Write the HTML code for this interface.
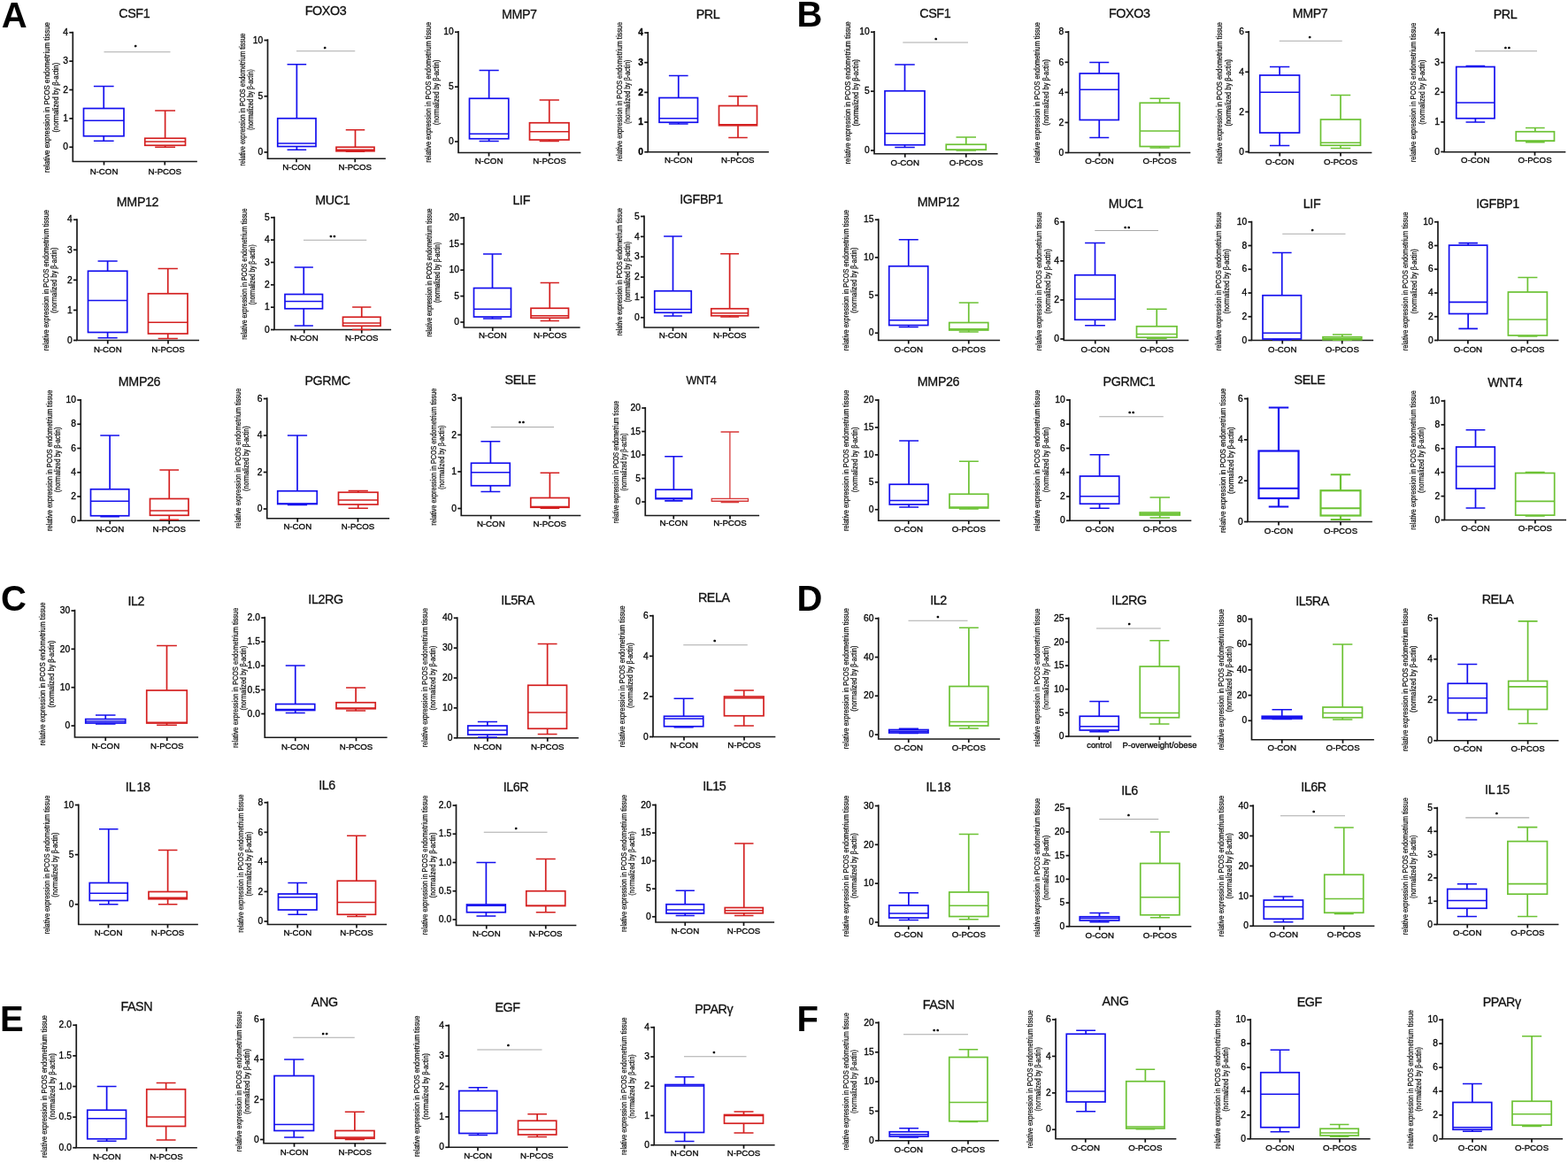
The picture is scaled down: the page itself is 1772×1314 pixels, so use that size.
<!DOCTYPE html>
<html><head><meta charset="utf-8"><title>Figure</title>
<style>html,body{margin:0;padding:0;background:#fff;}svg{display:block;}</style>
</head><body>
<svg width="1772" height="1314" viewBox="0 0 1772 1314" font-family="'Liberation Sans', Arial, sans-serif">
<rect width="1772" height="1314" fill="#fff"/>
<text x="1.8" y="30.6" font-size="40" font-weight="bold" fill="#000">A</text>
<text x="900.4" y="30.4" font-size="40" font-weight="bold" fill="#000">B</text>
<text x="1" y="690.2" font-size="40" font-weight="bold" fill="#000">C</text>
<text x="900.4" y="690.4" font-size="40" font-weight="bold" fill="#000">D</text>
<text x="0" y="1165" font-size="40" font-weight="bold" fill="#000">E</text>
<text x="900.4" y="1165" font-size="40" font-weight="bold" fill="#000">F</text>
<g><text x="151.75" y="20" font-size="14.3" text-anchor="middle" fill="#111" letter-spacing="-0.4" stroke="#111" stroke-width="0.3">CSF1</text><text transform="translate(56.4,110) rotate(-90)" font-size="8.5" text-anchor="middle" fill="#111" stroke="#111" stroke-width="0.25" textLength="170" lengthAdjust="spacingAndGlyphs">relative expression in PCOS endometrium tissue</text><text transform="translate(65.7,110.12) rotate(-90)" font-size="8.5" text-anchor="middle" fill="#111" stroke="#111" stroke-width="0.25" textLength="78.75" lengthAdjust="spacingAndGlyphs">(normalized by β-actin)</text><path d="M82.3,36.5V182.5H222" fill="none" stroke="#1a1a1a" stroke-width="1.7" stroke-linecap="square"/><path d="M78.3,36.75H82.3" stroke="#111" stroke-width="1.7"/><text x="77" y="39.94" font-size="10.3" text-anchor="end" fill="#000" stroke="#000" stroke-width="0.3" font-weight="normal">4</text><path d="M78.3,69.12H82.3" stroke="#111" stroke-width="1.7"/><text x="77" y="72.32" font-size="10.3" text-anchor="end" fill="#000" stroke="#000" stroke-width="0.3" font-weight="normal">3</text><path d="M78.3,101.5H82.3" stroke="#111" stroke-width="1.7"/><text x="77" y="104.69" font-size="10.3" text-anchor="end" fill="#000" stroke="#000" stroke-width="0.3" font-weight="normal">2</text><path d="M78.3,133.88H82.3" stroke="#111" stroke-width="1.7"/><text x="77" y="137.07" font-size="10.3" text-anchor="end" fill="#000" stroke="#000" stroke-width="0.3" font-weight="normal">1</text><path d="M78.3,166.25H82.3" stroke="#111" stroke-width="1.7"/><text x="77" y="169.44" font-size="10.3" text-anchor="end" fill="#000" stroke="#000" stroke-width="0.3" font-weight="normal">0</text><path d="M117.5,182.5V186.5" stroke="#111" stroke-width="1.7"/><text x="117.5" y="196.7" font-size="9.7" text-anchor="middle" fill="#000" stroke="#000" stroke-width="0.3">N-CON</text><path d="M186.25,182.5V186.5" stroke="#111" stroke-width="1.7"/><text x="186.25" y="196.7" font-size="9.7" text-anchor="middle" fill="#000" stroke="#000" stroke-width="0.3">N-PCOS</text><path d="M117.25,97.5V122.5M117.25,153.75V159.25M105.88,97.5H128.62M105.88,159.25H128.62M94.5,136.25H140" fill="none" stroke="#1410ee" stroke-width="1.7"/><rect x="94.5" y="122.5" width="45.5" height="31.25" fill="none" stroke="#1410ee" stroke-width="1.7"/><path d="M186.62,125V156.25M186.62,164.25V166.25M175.19,125H198.06M175.19,166.25H198.06M163.75,160H209.5" fill="none" stroke="#d42020" stroke-width="1.7"/><rect x="163.75" y="156.25" width="45.75" height="8" fill="none" stroke="#d42020" stroke-width="1.7"/><path d="M117.5,58.75H192.5" stroke="#aaa" stroke-width="1.1"/><text x="153.2" y="55.4" font-size="6" font-weight="bold" text-anchor="middle" fill="#000" stroke="#000" stroke-width="0.5" letter-spacing="0">*</text></g>
<g><text x="368" y="17" font-size="14.3" text-anchor="middle" fill="#111" letter-spacing="-0.4" stroke="#111" stroke-width="0.3">FOXO3</text><text transform="translate(277,112.5) rotate(-90)" font-size="8.5" text-anchor="middle" fill="#111" stroke="#111" stroke-width="0.25" textLength="150" lengthAdjust="spacingAndGlyphs">relative expression in PCOS endometrium tissue</text><text transform="translate(286.3,112.62) rotate(-90)" font-size="8.5" text-anchor="middle" fill="#111" stroke="#111" stroke-width="0.25" textLength="68.75" lengthAdjust="spacingAndGlyphs">(normalized by β-actin)</text><path d="M302.5,45V179.25H435" fill="none" stroke="#1a1a1a" stroke-width="1.7" stroke-linecap="square"/><path d="M298.5,45.5H302.5" stroke="#111" stroke-width="1.7"/><text x="297.2" y="48.69" font-size="10.3" text-anchor="end" fill="#000" stroke="#000" stroke-width="0.3" font-weight="normal">10</text><path d="M298.5,108.75H302.5" stroke="#111" stroke-width="1.7"/><text x="297.2" y="111.94" font-size="10.3" text-anchor="end" fill="#000" stroke="#000" stroke-width="0.3" font-weight="normal">5</text><path d="M298.5,172H302.5" stroke="#111" stroke-width="1.7"/><text x="297.2" y="175.19" font-size="10.3" text-anchor="end" fill="#000" stroke="#000" stroke-width="0.3" font-weight="normal">0</text><path d="M335,179.25V183.25" stroke="#111" stroke-width="1.7"/><text x="335" y="191.7" font-size="9.7" text-anchor="middle" fill="#000" stroke="#000" stroke-width="0.3">N-CON</text><path d="M401.25,179.25V183.25" stroke="#111" stroke-width="1.7"/><text x="401.25" y="191.7" font-size="9.7" text-anchor="middle" fill="#000" stroke="#000" stroke-width="0.3">N-PCOS</text><path d="M335.38,72.75V133.75M335.38,165.5V169.25M324.56,72.75H346.19M324.56,169.25H346.19M313.75,162H357" fill="none" stroke="#1410ee" stroke-width="1.7"/><rect x="313.75" y="133.75" width="43.25" height="31.75" fill="none" stroke="#1410ee" stroke-width="1.7"/><path d="M401.5,146.75V166.25M401.5,170.75V171.25M390.75,146.75H412.25M390.75,171.25H412.25M380,169.25H423" fill="none" stroke="#d42020" stroke-width="1.7"/><rect x="380" y="166.25" width="43" height="4.5" fill="none" stroke="#d42020" stroke-width="1.7"/><path d="M335,57.75H401.25" stroke="#aaa" stroke-width="1.1"/><text x="367.2" y="56.65" font-size="6" font-weight="bold" text-anchor="middle" fill="#000" stroke="#000" stroke-width="0.5" letter-spacing="0">*</text></g>
<g><text x="586.75" y="20.5" font-size="14.3" text-anchor="middle" fill="#111" letter-spacing="-0.4" stroke="#111" stroke-width="0.3">MMP7</text><text transform="translate(487,104.38) rotate(-90)" font-size="8.5" text-anchor="middle" fill="#111" stroke="#111" stroke-width="0.25" textLength="158.75" lengthAdjust="spacingAndGlyphs">relative expression in PCOS endometrium tissue</text><text transform="translate(496.3,104.38) rotate(-90)" font-size="8.5" text-anchor="middle" fill="#111" stroke="#111" stroke-width="0.25" textLength="73.75" lengthAdjust="spacingAndGlyphs">(normalized by β-actin)</text><path d="M518,35.75V172.5H655.5" fill="none" stroke="#1a1a1a" stroke-width="1.7" stroke-linecap="square"/><path d="M514,36.25H518" stroke="#111" stroke-width="1.7"/><text x="512.7" y="39.44" font-size="10.3" text-anchor="end" fill="#000" stroke="#000" stroke-width="0.3" font-weight="normal">10</text><path d="M514,98.12H518" stroke="#111" stroke-width="1.7"/><text x="512.7" y="101.32" font-size="10.3" text-anchor="end" fill="#000" stroke="#000" stroke-width="0.3" font-weight="normal">5</text><path d="M514,160H518" stroke="#111" stroke-width="1.7"/><text x="512.7" y="163.19" font-size="10.3" text-anchor="end" fill="#000" stroke="#000" stroke-width="0.3" font-weight="normal">0</text><path d="M552.5,172.5V176.5" stroke="#111" stroke-width="1.7"/><text x="552.5" y="185.45" font-size="9.7" text-anchor="middle" fill="#000" stroke="#000" stroke-width="0.3">N-CON</text><path d="M621,172.5V176.5" stroke="#111" stroke-width="1.7"/><text x="621" y="185.45" font-size="9.7" text-anchor="middle" fill="#000" stroke="#000" stroke-width="0.3">N-PCOS</text><path d="M552.62,79.5V111.25M552.62,156.75V159.5M541.56,79.5H563.69M541.56,159.5H563.69M530.5,151.25H574.75" fill="none" stroke="#1410ee" stroke-width="1.7"/><rect x="530.5" y="111.25" width="44.25" height="45.5" fill="none" stroke="#1410ee" stroke-width="1.7"/><path d="M620.75,113V138.75M620.75,158V159.5M609.62,113H631.88M609.62,159.5H631.88M598.5,148.75H643" fill="none" stroke="#d42020" stroke-width="1.7"/><rect x="598.5" y="138.75" width="44.5" height="19.25" fill="none" stroke="#d42020" stroke-width="1.7"/></g>
<g><text x="800" y="21.25" font-size="14.3" text-anchor="middle" fill="#111" letter-spacing="-0.4" stroke="#111" stroke-width="0.3">PRL</text><text transform="translate(703,103.75) rotate(-90)" font-size="8.5" text-anchor="middle" fill="#111" stroke="#111" stroke-width="0.25" textLength="157.5" lengthAdjust="spacingAndGlyphs">relative expression in PCOS endometrium tissue</text><text transform="translate(712.3,103.75) rotate(-90)" font-size="8.5" text-anchor="middle" fill="#111" stroke="#111" stroke-width="0.25" textLength="72.5" lengthAdjust="spacingAndGlyphs">(normalized by β-actin)</text><path d="M732.25,36.75V171.75H868" fill="none" stroke="#1a1a1a" stroke-width="1.7" stroke-linecap="square"/><path d="M728.25,37H732.25" stroke="#111" stroke-width="1.7"/><text x="726.95" y="40.19" font-size="10.3" text-anchor="end" fill="#000" stroke="#000" stroke-width="0.3" font-weight="bold">4</text><path d="M728.25,70.69H732.25" stroke="#111" stroke-width="1.7"/><text x="726.95" y="73.88" font-size="10.3" text-anchor="end" fill="#000" stroke="#000" stroke-width="0.3" font-weight="bold">3</text><path d="M728.25,104.38H732.25" stroke="#111" stroke-width="1.7"/><text x="726.95" y="107.57" font-size="10.3" text-anchor="end" fill="#000" stroke="#000" stroke-width="0.3" font-weight="bold">2</text><path d="M728.25,138.06H732.25" stroke="#111" stroke-width="1.7"/><text x="726.95" y="141.26" font-size="10.3" text-anchor="end" fill="#000" stroke="#000" stroke-width="0.3" font-weight="bold">1</text><path d="M728.25,171.75H732.25" stroke="#111" stroke-width="1.7"/><text x="726.95" y="174.94" font-size="10.3" text-anchor="end" fill="#000" stroke="#000" stroke-width="0.3" font-weight="bold">0</text><path d="M766.75,171.75V175.75" stroke="#111" stroke-width="1.7"/><text x="766.75" y="184.2" font-size="9.7" text-anchor="middle" fill="#000" stroke="#000" stroke-width="0.3">N-CON</text><path d="M833.75,171.75V175.75" stroke="#111" stroke-width="1.7"/><text x="833.75" y="184.2" font-size="9.7" text-anchor="middle" fill="#000" stroke="#000" stroke-width="0.3">N-PCOS</text><path d="M766.75,85.5V110.5M766.75,138.25V140M755.88,85.5H777.62M755.88,140H777.62M745,133.75H788.5" fill="none" stroke="#1410ee" stroke-width="1.7"/><rect x="745" y="110.5" width="43.5" height="27.75" fill="none" stroke="#1410ee" stroke-width="1.7"/><path d="M834,108.75V119.5M834,141.75V155.5M823.25,108.75H844.75M823.25,155.5H844.75M812.5,140.75H855.5" fill="none" stroke="#d42020" stroke-width="1.7"/><rect x="812.5" y="119.5" width="43" height="22.25" fill="none" stroke="#d42020" stroke-width="1.7"/></g>
<g><text x="155.5" y="232.5" font-size="14.3" text-anchor="middle" fill="#111" letter-spacing="-0.4" stroke="#111" stroke-width="0.3">MMP12</text><text transform="translate(54.75,316.62) rotate(-90)" font-size="8.5" text-anchor="middle" fill="#111" stroke="#111" stroke-width="0.25" textLength="159.25" lengthAdjust="spacingAndGlyphs">relative expression in PCOS endometrium tissue</text><text transform="translate(64.05,316.62) rotate(-90)" font-size="8.5" text-anchor="middle" fill="#111" stroke="#111" stroke-width="0.25" textLength="74.25" lengthAdjust="spacingAndGlyphs">(normalized by β-actin)</text><path d="M87,248V384.5H224.25" fill="none" stroke="#1a1a1a" stroke-width="1.7" stroke-linecap="square"/><path d="M83,248.25H87" stroke="#111" stroke-width="1.7"/><text x="81.7" y="251.44" font-size="10.3" text-anchor="end" fill="#000" stroke="#000" stroke-width="0.3" font-weight="normal">4</text><path d="M83,282.31H87" stroke="#111" stroke-width="1.7"/><text x="81.7" y="285.51" font-size="10.3" text-anchor="end" fill="#000" stroke="#000" stroke-width="0.3" font-weight="normal">3</text><path d="M83,316.38H87" stroke="#111" stroke-width="1.7"/><text x="81.7" y="319.57" font-size="10.3" text-anchor="end" fill="#000" stroke="#000" stroke-width="0.3" font-weight="normal">2</text><path d="M83,350.44H87" stroke="#111" stroke-width="1.7"/><text x="81.7" y="353.63" font-size="10.3" text-anchor="end" fill="#000" stroke="#000" stroke-width="0.3" font-weight="normal">1</text><path d="M83,384.5H87" stroke="#111" stroke-width="1.7"/><text x="81.7" y="387.69" font-size="10.3" text-anchor="end" fill="#000" stroke="#000" stroke-width="0.3" font-weight="normal">0</text><path d="M121.75,384.5V388.5" stroke="#111" stroke-width="1.7"/><text x="121.75" y="397.95" font-size="9.7" text-anchor="middle" fill="#000" stroke="#000" stroke-width="0.3">N-CON</text><path d="M190,384.5V388.5" stroke="#111" stroke-width="1.7"/><text x="190" y="397.95" font-size="9.7" text-anchor="middle" fill="#000" stroke="#000" stroke-width="0.3">N-PCOS</text><path d="M121.62,295V306.25M121.62,375.5V381.75M110.56,295H132.69M110.56,381.75H132.69M99.5,339.5H143.75" fill="none" stroke="#1410ee" stroke-width="1.7"/><rect x="99.5" y="306.25" width="44.25" height="69.25" fill="none" stroke="#1410ee" stroke-width="1.7"/><path d="M189.75,303.5V331.75M189.75,377V382.5M178.62,303.5H200.88M178.62,382.5H200.88M167.5,364.25H212" fill="none" stroke="#d42020" stroke-width="1.7"/><rect x="167.5" y="331.75" width="44.5" height="45.25" fill="none" stroke="#d42020" stroke-width="1.7"/></g>
<g><text x="375.75" y="231.25" font-size="14.3" text-anchor="middle" fill="#111" letter-spacing="-0.4" stroke="#111" stroke-width="0.3">MUC1</text><text transform="translate(279,309.62) rotate(-90)" font-size="8.5" text-anchor="middle" fill="#111" stroke="#111" stroke-width="0.25" textLength="148.25" lengthAdjust="spacingAndGlyphs">relative expression in PCOS endometrium tissue</text><text transform="translate(288.3,310.25) rotate(-90)" font-size="8.5" text-anchor="middle" fill="#111" stroke="#111" stroke-width="0.25" textLength="68" lengthAdjust="spacingAndGlyphs">(normalized by β-actin)</text><path d="M310,245.5V372.5H441.25" fill="none" stroke="#1a1a1a" stroke-width="1.7" stroke-linecap="square"/><path d="M306,245.75H310" stroke="#111" stroke-width="1.7"/><text x="304.7" y="248.94" font-size="10.3" text-anchor="end" fill="#000" stroke="#000" stroke-width="0.3" font-weight="normal">5</text><path d="M306,271.1H310" stroke="#111" stroke-width="1.7"/><text x="304.7" y="274.29" font-size="10.3" text-anchor="end" fill="#000" stroke="#000" stroke-width="0.3" font-weight="normal">4</text><path d="M306,296.45H310" stroke="#111" stroke-width="1.7"/><text x="304.7" y="299.64" font-size="10.3" text-anchor="end" fill="#000" stroke="#000" stroke-width="0.3" font-weight="normal">3</text><path d="M306,321.8H310" stroke="#111" stroke-width="1.7"/><text x="304.7" y="324.99" font-size="10.3" text-anchor="end" fill="#000" stroke="#000" stroke-width="0.3" font-weight="normal">2</text><path d="M306,347.15H310" stroke="#111" stroke-width="1.7"/><text x="304.7" y="350.34" font-size="10.3" text-anchor="end" fill="#000" stroke="#000" stroke-width="0.3" font-weight="normal">1</text><path d="M306,372.5H310" stroke="#111" stroke-width="1.7"/><text x="304.7" y="375.69" font-size="10.3" text-anchor="end" fill="#000" stroke="#000" stroke-width="0.3" font-weight="normal">0</text><path d="M343.75,372.5V376.5" stroke="#111" stroke-width="1.7"/><text x="343.75" y="384.7" font-size="9.7" text-anchor="middle" fill="#000" stroke="#000" stroke-width="0.3">N-CON</text><path d="M408.75,372.5V376.5" stroke="#111" stroke-width="1.7"/><text x="408.75" y="384.7" font-size="9.7" text-anchor="middle" fill="#000" stroke="#000" stroke-width="0.3">N-PCOS</text><path d="M343.25,302V332.5M343.25,348.75V368M332.62,302H353.88M332.62,368H353.88M322,340.5H364.5" fill="none" stroke="#1410ee" stroke-width="1.7"/><rect x="322" y="332.5" width="42.5" height="16.25" fill="none" stroke="#1410ee" stroke-width="1.7"/><path d="M408.75,347V358.25M408.75,368.25V372.5M398.12,347H419.38M398.12,372.5H419.38M387.5,365H430" fill="none" stroke="#d42020" stroke-width="1.7"/><rect x="387.5" y="358.25" width="42.5" height="10" fill="none" stroke="#d42020" stroke-width="1.7"/><path d="M343,271.25H414.25" stroke="#aaa" stroke-width="1.1"/><text x="376.8" y="269.9" font-size="6" font-weight="bold" text-anchor="middle" fill="#000" stroke="#000" stroke-width="0.5" letter-spacing="1.7">**</text></g>
<g><text x="589.25" y="231.25" font-size="14.3" text-anchor="middle" fill="#111" letter-spacing="-0.4" stroke="#111" stroke-width="0.3">LIF</text><text transform="translate(487.5,308) rotate(-90)" font-size="8.5" text-anchor="middle" fill="#111" stroke="#111" stroke-width="0.25" textLength="145" lengthAdjust="spacingAndGlyphs">relative expression in PCOS endometrium tissue</text><text transform="translate(496.8,307.88) rotate(-90)" font-size="8.5" text-anchor="middle" fill="#111" stroke="#111" stroke-width="0.25" textLength="68.25" lengthAdjust="spacingAndGlyphs">(normalized by β-actin)</text><path d="M524.25,245.75V370H654.75" fill="none" stroke="#1a1a1a" stroke-width="1.7" stroke-linecap="square"/><path d="M520.25,246.25H524.25" stroke="#111" stroke-width="1.7"/><text x="518.95" y="249.44" font-size="10.3" text-anchor="end" fill="#000" stroke="#000" stroke-width="0.3" font-weight="normal">20</text><path d="M520.25,275.69H524.25" stroke="#111" stroke-width="1.7"/><text x="518.95" y="278.88" font-size="10.3" text-anchor="end" fill="#000" stroke="#000" stroke-width="0.3" font-weight="normal">15</text><path d="M520.25,305.12H524.25" stroke="#111" stroke-width="1.7"/><text x="518.95" y="308.32" font-size="10.3" text-anchor="end" fill="#000" stroke="#000" stroke-width="0.3" font-weight="normal">10</text><path d="M520.25,334.56H524.25" stroke="#111" stroke-width="1.7"/><text x="518.95" y="337.76" font-size="10.3" text-anchor="end" fill="#000" stroke="#000" stroke-width="0.3" font-weight="normal">5</text><path d="M520.25,364H524.25" stroke="#111" stroke-width="1.7"/><text x="518.95" y="367.19" font-size="10.3" text-anchor="end" fill="#000" stroke="#000" stroke-width="0.3" font-weight="normal">0</text><path d="M556.75,370V374" stroke="#111" stroke-width="1.7"/><text x="556.75" y="381.7" font-size="9.7" text-anchor="middle" fill="#000" stroke="#000" stroke-width="0.3">N-CON</text><path d="M621.75,370V374" stroke="#111" stroke-width="1.7"/><text x="621.75" y="381.7" font-size="9.7" text-anchor="middle" fill="#000" stroke="#000" stroke-width="0.3">N-PCOS</text><path d="M556.5,287V325.5M556.5,358V360M546,287H567M546,360H567M535.5,349.25H577.5" fill="none" stroke="#1410ee" stroke-width="1.7"/><rect x="535.5" y="325.5" width="42" height="32.5" fill="none" stroke="#1410ee" stroke-width="1.7"/><path d="M621.25,319.5V348.25M621.25,359.25V362.5M610.62,319.5H631.88M610.62,362.5H631.88M600,356.75H642.5" fill="none" stroke="#d42020" stroke-width="1.7"/><rect x="600" y="348.25" width="42.5" height="11" fill="none" stroke="#d42020" stroke-width="1.7"/></g>
<g><text x="792.5" y="230" font-size="14.3" text-anchor="middle" fill="#111" letter-spacing="-0.4" stroke="#111" stroke-width="0.3">IGFBP1</text><text transform="translate(702.5,307.12) rotate(-90)" font-size="8.5" text-anchor="middle" fill="#111" stroke="#111" stroke-width="0.25" textLength="144.25" lengthAdjust="spacingAndGlyphs">relative expression in PCOS endometrium tissue</text><text transform="translate(711.8,307.12) rotate(-90)" font-size="8.5" text-anchor="middle" fill="#111" stroke="#111" stroke-width="0.25" textLength="68.25" lengthAdjust="spacingAndGlyphs">(normalized by β-actin)</text><path d="M728,244.25V370H857.25" fill="none" stroke="#1a1a1a" stroke-width="1.7" stroke-linecap="square"/><path d="M724,244.5H728" stroke="#111" stroke-width="1.7"/><text x="722.7" y="247.69" font-size="10.3" text-anchor="end" fill="#000" stroke="#000" stroke-width="0.3" font-weight="normal">5</text><path d="M724,267.35H728" stroke="#111" stroke-width="1.7"/><text x="722.7" y="270.54" font-size="10.3" text-anchor="end" fill="#000" stroke="#000" stroke-width="0.3" font-weight="normal">4</text><path d="M724,290.2H728" stroke="#111" stroke-width="1.7"/><text x="722.7" y="293.39" font-size="10.3" text-anchor="end" fill="#000" stroke="#000" stroke-width="0.3" font-weight="normal">3</text><path d="M724,313.05H728" stroke="#111" stroke-width="1.7"/><text x="722.7" y="316.24" font-size="10.3" text-anchor="end" fill="#000" stroke="#000" stroke-width="0.3" font-weight="normal">2</text><path d="M724,335.9H728" stroke="#111" stroke-width="1.7"/><text x="722.7" y="339.09" font-size="10.3" text-anchor="end" fill="#000" stroke="#000" stroke-width="0.3" font-weight="normal">1</text><path d="M724,358.75H728" stroke="#111" stroke-width="1.7"/><text x="722.7" y="361.94" font-size="10.3" text-anchor="end" fill="#000" stroke="#000" stroke-width="0.3" font-weight="normal">0</text><path d="M760.5,370V374" stroke="#111" stroke-width="1.7"/><text x="760.5" y="381.7" font-size="9.7" text-anchor="middle" fill="#000" stroke="#000" stroke-width="0.3">N-CON</text><path d="M824.75,370V374" stroke="#111" stroke-width="1.7"/><text x="824.75" y="381.7" font-size="9.7" text-anchor="middle" fill="#000" stroke="#000" stroke-width="0.3">N-PCOS</text><path d="M760.5,267V328.75M760.5,353.25V357M750.12,267H770.88M750.12,357H770.88M739.75,349.5H781.25" fill="none" stroke="#1410ee" stroke-width="1.7"/><rect x="739.75" y="328.75" width="41.5" height="24.5" fill="none" stroke="#1410ee" stroke-width="1.7"/><path d="M824.62,286.75V348.75M824.62,356.75V358M814.19,286.75H835.06M814.19,358H835.06M803.75,353.75H845.5" fill="none" stroke="#d42020" stroke-width="1.7"/><rect x="803.75" y="348.75" width="41.75" height="8" fill="none" stroke="#d42020" stroke-width="1.7"/></g>
<g><text x="157.5" y="435.5" font-size="14.3" text-anchor="middle" fill="#111" letter-spacing="-0.4" stroke="#111" stroke-width="0.3">MMP26</text><text transform="translate(59,520.25) rotate(-90)" font-size="8.5" text-anchor="middle" fill="#111" stroke="#111" stroke-width="0.25" textLength="159.5" lengthAdjust="spacingAndGlyphs">relative expression in PCOS endometrium tissue</text><text transform="translate(68.3,519.38) rotate(-90)" font-size="8.5" text-anchor="middle" fill="#111" stroke="#111" stroke-width="0.25" textLength="73.75" lengthAdjust="spacingAndGlyphs">(normalized by β-actin)</text><path d="M91.25,451.75V588.25H225" fill="none" stroke="#1a1a1a" stroke-width="1.7" stroke-linecap="square"/><path d="M87.25,452H91.25" stroke="#111" stroke-width="1.7"/><text x="85.95" y="455.19" font-size="10.3" text-anchor="end" fill="#000" stroke="#000" stroke-width="0.3" font-weight="normal">10</text><path d="M87.25,479.25H91.25" stroke="#111" stroke-width="1.7"/><text x="85.95" y="482.44" font-size="10.3" text-anchor="end" fill="#000" stroke="#000" stroke-width="0.3" font-weight="normal">8</text><path d="M87.25,506.5H91.25" stroke="#111" stroke-width="1.7"/><text x="85.95" y="509.69" font-size="10.3" text-anchor="end" fill="#000" stroke="#000" stroke-width="0.3" font-weight="normal">6</text><path d="M87.25,533.75H91.25" stroke="#111" stroke-width="1.7"/><text x="85.95" y="536.94" font-size="10.3" text-anchor="end" fill="#000" stroke="#000" stroke-width="0.3" font-weight="normal">4</text><path d="M87.25,561H91.25" stroke="#111" stroke-width="1.7"/><text x="85.95" y="564.19" font-size="10.3" text-anchor="end" fill="#000" stroke="#000" stroke-width="0.3" font-weight="normal">2</text><path d="M87.25,588.25H91.25" stroke="#111" stroke-width="1.7"/><text x="85.95" y="591.44" font-size="10.3" text-anchor="end" fill="#000" stroke="#000" stroke-width="0.3" font-weight="normal">0</text><path d="M124.25,588.25V592.25" stroke="#111" stroke-width="1.7"/><text x="124.25" y="601.2" font-size="9.7" text-anchor="middle" fill="#000" stroke="#000" stroke-width="0.3">N-CON</text><path d="M191.25,588.25V592.25" stroke="#111" stroke-width="1.7"/><text x="191.25" y="601.2" font-size="9.7" text-anchor="middle" fill="#000" stroke="#000" stroke-width="0.3">N-PCOS</text><path d="M124.12,492V552.75M124.12,582.75V583.75M113.31,492H134.94M113.31,583.75H134.94M102.5,566.25H145.75" fill="none" stroke="#1410ee" stroke-width="1.7"/><rect x="102.5" y="552.75" width="43.25" height="30" fill="none" stroke="#1410ee" stroke-width="1.7"/><path d="M191.25,531V563.5M191.25,582.25V587.25M180.38,531H202.12M180.38,587.25H202.12M169.5,577H213" fill="none" stroke="#d42020" stroke-width="1.7"/><rect x="169.5" y="563.5" width="43.5" height="18.75" fill="none" stroke="#d42020" stroke-width="1.7"/></g>
<g><text x="370" y="434.5" font-size="14.3" text-anchor="middle" fill="#111" letter-spacing="-0.4" stroke="#111" stroke-width="0.3">PGRMC</text><text transform="translate(272,517.88) rotate(-90)" font-size="8.5" text-anchor="middle" fill="#111" stroke="#111" stroke-width="0.25" textLength="158.25" lengthAdjust="spacingAndGlyphs">relative expression in PCOS endometrium tissue</text><text transform="translate(281.3,518.12) rotate(-90)" font-size="8.5" text-anchor="middle" fill="#111" stroke="#111" stroke-width="0.25" textLength="73.75" lengthAdjust="spacingAndGlyphs">(normalized by β-actin)</text><path d="M301.75,450V585.75H439.25" fill="none" stroke="#1a1a1a" stroke-width="1.7" stroke-linecap="square"/><path d="M297.75,450.5H301.75" stroke="#111" stroke-width="1.7"/><text x="296.45" y="453.69" font-size="10.3" text-anchor="end" fill="#000" stroke="#000" stroke-width="0.3" font-weight="normal">6</text><path d="M297.75,492H301.75" stroke="#111" stroke-width="1.7"/><text x="296.45" y="495.19" font-size="10.3" text-anchor="end" fill="#000" stroke="#000" stroke-width="0.3" font-weight="normal">4</text><path d="M297.75,533.5H301.75" stroke="#111" stroke-width="1.7"/><text x="296.45" y="536.69" font-size="10.3" text-anchor="end" fill="#000" stroke="#000" stroke-width="0.3" font-weight="normal">2</text><path d="M297.75,575H301.75" stroke="#111" stroke-width="1.7"/><text x="296.45" y="578.19" font-size="10.3" text-anchor="end" fill="#000" stroke="#000" stroke-width="0.3" font-weight="normal">0</text><path d="M336.25,585.75V589.75" stroke="#111" stroke-width="1.7"/><text x="336.25" y="597.95" font-size="9.7" text-anchor="middle" fill="#000" stroke="#000" stroke-width="0.3">N-CON</text><path d="M404.5,585.75V589.75" stroke="#111" stroke-width="1.7"/><text x="404.5" y="597.95" font-size="9.7" text-anchor="middle" fill="#000" stroke="#000" stroke-width="0.3">N-PCOS</text><path d="M336,492V554.75M336,569.5V570.5M324.88,492H347.12M324.88,570.5H347.12M313.75,569H358.25" fill="none" stroke="#1410ee" stroke-width="1.7"/><rect x="313.75" y="554.75" width="44.5" height="14.75" fill="none" stroke="#1410ee" stroke-width="1.7"/><path d="M404.75,554.5V556.25M404.75,570V574.25M393.62,554.5H415.88M393.62,574.25H415.88M382.5,565H427" fill="none" stroke="#d42020" stroke-width="1.7"/><rect x="382.5" y="556.25" width="44.5" height="13.75" fill="none" stroke="#d42020" stroke-width="1.7"/></g>
<g><text x="588" y="434.25" font-size="14.3" text-anchor="middle" fill="#111" letter-spacing="-0.4" stroke="#111" stroke-width="0.3">SELE</text><text transform="translate(493,516.25) rotate(-90)" font-size="8.5" text-anchor="middle" fill="#111" stroke="#111" stroke-width="0.25" textLength="155" lengthAdjust="spacingAndGlyphs">relative expression in PCOS endometrium tissue</text><text transform="translate(502.3,516.75) rotate(-90)" font-size="8.5" text-anchor="middle" fill="#111" stroke="#111" stroke-width="0.25" textLength="72.5" lengthAdjust="spacingAndGlyphs">(normalized by β-actin)</text><path d="M521.25,449.25V582.5H655.5" fill="none" stroke="#1a1a1a" stroke-width="1.7" stroke-linecap="square"/><path d="M517.25,449.75H521.25" stroke="#111" stroke-width="1.7"/><text x="515.95" y="452.94" font-size="10.3" text-anchor="end" fill="#000" stroke="#000" stroke-width="0.3" font-weight="normal">3</text><path d="M517.25,491.33H521.25" stroke="#111" stroke-width="1.7"/><text x="515.95" y="494.53" font-size="10.3" text-anchor="end" fill="#000" stroke="#000" stroke-width="0.3" font-weight="normal">2</text><path d="M517.25,532.92H521.25" stroke="#111" stroke-width="1.7"/><text x="515.95" y="536.11" font-size="10.3" text-anchor="end" fill="#000" stroke="#000" stroke-width="0.3" font-weight="normal">1</text><path d="M517.25,574.5H521.25" stroke="#111" stroke-width="1.7"/><text x="515.95" y="577.69" font-size="10.3" text-anchor="end" fill="#000" stroke="#000" stroke-width="0.3" font-weight="normal">0</text><path d="M554.75,582.5V586.5" stroke="#111" stroke-width="1.7"/><text x="554.75" y="595.45" font-size="9.7" text-anchor="middle" fill="#000" stroke="#000" stroke-width="0.3">N-CON</text><path d="M621.25,582.5V586.5" stroke="#111" stroke-width="1.7"/><text x="621.25" y="595.45" font-size="9.7" text-anchor="middle" fill="#000" stroke="#000" stroke-width="0.3">N-PCOS</text><path d="M554.38,498.75V523.25M554.38,548.75V555.5M543.44,498.75H565.31M543.44,555.5H565.31M532.5,533.75H576.25" fill="none" stroke="#1410ee" stroke-width="1.7"/><rect x="532.5" y="523.25" width="43.75" height="25.5" fill="none" stroke="#1410ee" stroke-width="1.7"/><path d="M621.38,534.25V562.5M621.38,573.25V574.25M610.56,534.25H632.19M610.56,574.25H632.19M599.75,572.5H643" fill="none" stroke="#d42020" stroke-width="1.7"/><rect x="599.75" y="562.5" width="43.25" height="10.75" fill="none" stroke="#d42020" stroke-width="1.7"/><path d="M554.75,482.5H626" stroke="#aaa" stroke-width="1.1"/><text x="590.3" y="479.9" font-size="6" font-weight="bold" text-anchor="middle" fill="#000" stroke="#000" stroke-width="0.5" letter-spacing="1.7">**</text></g>
<g><text x="792.5" y="434.25" font-size="12.5" text-anchor="middle" fill="#111" letter-spacing="-0.4" stroke="#111" stroke-width="0.3">WNT4</text><text transform="translate(698.5,522.12) rotate(-90)" font-size="8.5" text-anchor="middle" fill="#111" stroke="#111" stroke-width="0.25" textLength="138.25" lengthAdjust="spacingAndGlyphs">relative expression in PCOS endometrium tissue</text><text transform="translate(707.8,522) rotate(-90)" font-size="8.5" text-anchor="middle" fill="#111" stroke="#111" stroke-width="0.25" textLength="65" lengthAdjust="spacingAndGlyphs">(normalized by β-actin)</text><path d="M729.25,460.75V582.5H857.25" fill="none" stroke="#1a1a1a" stroke-width="1.7" stroke-linecap="square"/><path d="M725.25,461H729.25" stroke="#111" stroke-width="1.7"/><text x="723.95" y="464.19" font-size="10.3" text-anchor="end" fill="#000" stroke="#000" stroke-width="0.3" font-weight="normal">20</text><path d="M725.25,487.5H729.25" stroke="#111" stroke-width="1.7"/><text x="723.95" y="490.69" font-size="10.3" text-anchor="end" fill="#000" stroke="#000" stroke-width="0.3" font-weight="normal">15</text><path d="M725.25,514H729.25" stroke="#111" stroke-width="1.7"/><text x="723.95" y="517.19" font-size="10.3" text-anchor="end" fill="#000" stroke="#000" stroke-width="0.3" font-weight="normal">10</text><path d="M725.25,540.5H729.25" stroke="#111" stroke-width="1.7"/><text x="723.95" y="543.69" font-size="10.3" text-anchor="end" fill="#000" stroke="#000" stroke-width="0.3" font-weight="normal">5</text><path d="M725.25,567H729.25" stroke="#111" stroke-width="1.7"/><text x="723.95" y="570.19" font-size="10.3" text-anchor="end" fill="#000" stroke="#000" stroke-width="0.3" font-weight="normal">0</text><path d="M761.25,582.5V586.5" stroke="#111" stroke-width="1.7"/><text x="761.25" y="594.2" font-size="9.7" text-anchor="middle" fill="#000" stroke="#000" stroke-width="0.3">N-CON</text><path d="M825,582.5V586.5" stroke="#111" stroke-width="1.7"/><text x="825" y="594.2" font-size="9.7" text-anchor="middle" fill="#000" stroke="#000" stroke-width="0.3">N-PCOS</text><path d="M761.38,515.75V553.2M761.38,563.6V565.9M751.19,515.75H771.56M751.19,565.9H771.56M741,563.2H781.75" fill="none" stroke="#1410ee" stroke-width="1.7"/><rect x="741" y="553.2" width="40.75" height="10.4" fill="none" stroke="#1410ee" stroke-width="1.7"/><path d="M824.88,488V563.4M824.88,566.3V567.6M814.56,488H835.19M814.56,567.6H835.19M804.25,566.3H845.5" fill="none" stroke="#d83a3a" stroke-width="1.3"/><rect x="804.25" y="563.4" width="41.25" height="2.9" fill="none" stroke="#d83a3a" stroke-width="1.3"/></g>
<g><text x="1056.75" y="20" font-size="14.3" text-anchor="middle" fill="#111" letter-spacing="-0.4" stroke="#111" stroke-width="0.3">CSF1</text><text transform="translate(961,104.88) rotate(-90)" font-size="8.5" text-anchor="middle" fill="#111" stroke="#111" stroke-width="0.25" textLength="161.25" lengthAdjust="spacingAndGlyphs">relative expression in PCOS endometrium tissue</text><text transform="translate(970.3,104.75) rotate(-90)" font-size="8.5" text-anchor="middle" fill="#111" stroke="#111" stroke-width="0.25" textLength="75.5" lengthAdjust="spacingAndGlyphs">(normalized by β-actin)</text><path d="M988,35.75V173.75H1126.75" fill="none" stroke="#1a1a1a" stroke-width="1.7" stroke-linecap="square"/><path d="M984,36.25H988" stroke="#111" stroke-width="1.7"/><text x="982.7" y="39.44" font-size="10.3" text-anchor="end" fill="#000" stroke="#000" stroke-width="0.3" font-weight="normal">10</text><path d="M984,103.12H988" stroke="#111" stroke-width="1.7"/><text x="982.7" y="106.32" font-size="10.3" text-anchor="end" fill="#000" stroke="#000" stroke-width="0.3" font-weight="normal">5</text><path d="M984,170H988" stroke="#111" stroke-width="1.7"/><text x="982.7" y="173.19" font-size="10.3" text-anchor="end" fill="#000" stroke="#000" stroke-width="0.3" font-weight="normal">0</text><path d="M1022.75,173.75V177.75" stroke="#111" stroke-width="1.7"/><text x="1022.75" y="187.2" font-size="9.7" text-anchor="middle" fill="#000" stroke="#000" stroke-width="0.3">O-CON</text><path d="M1091.75,173.75V177.75" stroke="#111" stroke-width="1.7"/><text x="1091.75" y="187.2" font-size="9.7" text-anchor="middle" fill="#000" stroke="#000" stroke-width="0.3">O-PCOS</text><path d="M1022.5,73V102.75M1022.5,163.75V166.5M1011.25,73H1033.75M1011.25,166.5H1033.75M1000,150.75H1045" fill="none" stroke="#1410ee" stroke-width="1.7"/><rect x="1000" y="102.75" width="45" height="61" fill="none" stroke="#1410ee" stroke-width="1.7"/><path d="M1091.75,155V163.25M1091.75,169.25V170M1080.5,155H1103M1080.5,170H1103M1069.25,169.25H1114.25" fill="none" stroke="#6cc234" stroke-width="1.7"/><rect x="1069.25" y="163.25" width="45" height="6" fill="none" stroke="#6cc234" stroke-width="1.7"/><path d="M1020.25,48H1094" stroke="#aaa" stroke-width="1.1"/><text x="1057.7" y="47.15" font-size="6" font-weight="bold" text-anchor="middle" fill="#000" stroke="#000" stroke-width="0.5" letter-spacing="0">*</text></g>
<g><text x="1276.25" y="20" font-size="14.3" text-anchor="middle" fill="#111" letter-spacing="-0.4" stroke="#111" stroke-width="0.3">FOXO3</text><text transform="translate(1175.25,104.62) rotate(-90)" font-size="8.5" text-anchor="middle" fill="#111" stroke="#111" stroke-width="0.25" textLength="159.25" lengthAdjust="spacingAndGlyphs">relative expression in PCOS endometrium tissue</text><text transform="translate(1184.55,104.38) rotate(-90)" font-size="8.5" text-anchor="middle" fill="#111" stroke="#111" stroke-width="0.25" textLength="74.75" lengthAdjust="spacingAndGlyphs">(normalized by β-actin)</text><path d="M1207.5,35.75V172.5H1344.5" fill="none" stroke="#1a1a1a" stroke-width="1.7" stroke-linecap="square"/><path d="M1203.5,36.25H1207.5" stroke="#111" stroke-width="1.7"/><text x="1202.2" y="39.44" font-size="10.3" text-anchor="end" fill="#000" stroke="#000" stroke-width="0.3" font-weight="normal">8</text><path d="M1203.5,70.31H1207.5" stroke="#111" stroke-width="1.7"/><text x="1202.2" y="73.51" font-size="10.3" text-anchor="end" fill="#000" stroke="#000" stroke-width="0.3" font-weight="normal">6</text><path d="M1203.5,104.38H1207.5" stroke="#111" stroke-width="1.7"/><text x="1202.2" y="107.57" font-size="10.3" text-anchor="end" fill="#000" stroke="#000" stroke-width="0.3" font-weight="normal">4</text><path d="M1203.5,138.44H1207.5" stroke="#111" stroke-width="1.7"/><text x="1202.2" y="141.63" font-size="10.3" text-anchor="end" fill="#000" stroke="#000" stroke-width="0.3" font-weight="normal">2</text><path d="M1203.5,172.5H1207.5" stroke="#111" stroke-width="1.7"/><text x="1202.2" y="175.69" font-size="10.3" text-anchor="end" fill="#000" stroke="#000" stroke-width="0.3" font-weight="normal">0</text><path d="M1242.5,172.5V176.5" stroke="#111" stroke-width="1.7"/><text x="1242.5" y="185.45" font-size="9.7" text-anchor="middle" fill="#000" stroke="#000" stroke-width="0.3">O-CON</text><path d="M1310.5,172.5V176.5" stroke="#111" stroke-width="1.7"/><text x="1310.5" y="185.45" font-size="9.7" text-anchor="middle" fill="#000" stroke="#000" stroke-width="0.3">O-PCOS</text><path d="M1242.25,70.5V83M1242.25,135.5V155.5M1231.25,70.5H1253.25M1231.25,155.5H1253.25M1220.25,101.25H1264.25" fill="none" stroke="#1410ee" stroke-width="1.7"/><rect x="1220.25" y="83" width="44" height="52.5" fill="none" stroke="#1410ee" stroke-width="1.7"/><path d="M1310.62,111.25V116.25M1310.62,165.5V167M1299.44,111.25H1321.81M1299.44,167H1321.81M1288.25,148H1333" fill="none" stroke="#6cc234" stroke-width="1.7"/><rect x="1288.25" y="116.25" width="44.75" height="49.25" fill="none" stroke="#6cc234" stroke-width="1.7"/></g>
<g><text x="1480.5" y="20" font-size="14.3" text-anchor="middle" fill="#111" letter-spacing="-0.4" stroke="#111" stroke-width="0.3">MMP7</text><text transform="translate(1381.25,105) rotate(-90)" font-size="8.5" text-anchor="middle" fill="#111" stroke="#111" stroke-width="0.25" textLength="160" lengthAdjust="spacingAndGlyphs">relative expression in PCOS endometrium tissue</text><text transform="translate(1390.55,104.75) rotate(-90)" font-size="8.5" text-anchor="middle" fill="#111" stroke="#111" stroke-width="0.25" textLength="75.5" lengthAdjust="spacingAndGlyphs">(normalized by β-actin)</text><path d="M1411.25,35.75V172.5H1549.5" fill="none" stroke="#1a1a1a" stroke-width="1.7" stroke-linecap="square"/><path d="M1407.25,36.25H1411.25" stroke="#111" stroke-width="1.7"/><text x="1405.95" y="39.44" font-size="10.3" text-anchor="end" fill="#000" stroke="#000" stroke-width="0.3" font-weight="normal">6</text><path d="M1407.25,81.33H1411.25" stroke="#111" stroke-width="1.7"/><text x="1405.95" y="84.53" font-size="10.3" text-anchor="end" fill="#000" stroke="#000" stroke-width="0.3" font-weight="normal">4</text><path d="M1407.25,126.42H1411.25" stroke="#111" stroke-width="1.7"/><text x="1405.95" y="129.61" font-size="10.3" text-anchor="end" fill="#000" stroke="#000" stroke-width="0.3" font-weight="normal">2</text><path d="M1407.25,171.5H1411.25" stroke="#111" stroke-width="1.7"/><text x="1405.95" y="174.69" font-size="10.3" text-anchor="end" fill="#000" stroke="#000" stroke-width="0.3" font-weight="normal">0</text><path d="M1446.25,172.5V176.5" stroke="#111" stroke-width="1.7"/><text x="1446.25" y="186.2" font-size="9.7" text-anchor="middle" fill="#000" stroke="#000" stroke-width="0.3">O-CON</text><path d="M1515,172.5V176.5" stroke="#111" stroke-width="1.7"/><text x="1515" y="186.2" font-size="9.7" text-anchor="middle" fill="#000" stroke="#000" stroke-width="0.3">O-PCOS</text><path d="M1446.12,75.5V85M1446.12,150V164.5M1434.94,75.5H1457.31M1434.94,164.5H1457.31M1423.75,104.25H1468.5" fill="none" stroke="#1410ee" stroke-width="1.7"/><rect x="1423.75" y="85" width="44.75" height="65" fill="none" stroke="#1410ee" stroke-width="1.7"/><path d="M1515,107.5V135M1515,164.25V167.5M1503.75,107.5H1526.25M1503.75,167.5H1526.25M1492.5,161.25H1537.5" fill="none" stroke="#6cc234" stroke-width="1.7"/><rect x="1492.5" y="135" width="45" height="29.25" fill="none" stroke="#6cc234" stroke-width="1.7"/><path d="M1445.75,46.25H1516.75" stroke="#aaa" stroke-width="1.1"/><text x="1480.2" y="44.9" font-size="6" font-weight="bold" text-anchor="middle" fill="#000" stroke="#000" stroke-width="0.5" letter-spacing="0">*</text></g>
<g><text x="1701" y="21.25" font-size="14.3" text-anchor="middle" fill="#111" letter-spacing="-0.4" stroke="#111" stroke-width="0.3">PRL</text><text transform="translate(1600.25,104.5) rotate(-90)" font-size="8.5" text-anchor="middle" fill="#111" stroke="#111" stroke-width="0.25" textLength="157.5" lengthAdjust="spacingAndGlyphs">relative expression in PCOS endometrium tissue</text><text transform="translate(1609.55,104.12) rotate(-90)" font-size="8.5" text-anchor="middle" fill="#111" stroke="#111" stroke-width="0.25" textLength="73.25" lengthAdjust="spacingAndGlyphs">(normalized by β-actin)</text><path d="M1632.25,36.75V171.75H1768.5" fill="none" stroke="#1a1a1a" stroke-width="1.7" stroke-linecap="square"/><path d="M1628.25,37H1632.25" stroke="#111" stroke-width="1.7"/><text x="1626.95" y="40.19" font-size="10.3" text-anchor="end" fill="#000" stroke="#000" stroke-width="0.3" font-weight="normal">4</text><path d="M1628.25,70.62H1632.25" stroke="#111" stroke-width="1.7"/><text x="1626.95" y="73.82" font-size="10.3" text-anchor="end" fill="#000" stroke="#000" stroke-width="0.3" font-weight="normal">3</text><path d="M1628.25,104.25H1632.25" stroke="#111" stroke-width="1.7"/><text x="1626.95" y="107.44" font-size="10.3" text-anchor="end" fill="#000" stroke="#000" stroke-width="0.3" font-weight="normal">2</text><path d="M1628.25,137.88H1632.25" stroke="#111" stroke-width="1.7"/><text x="1626.95" y="141.07" font-size="10.3" text-anchor="end" fill="#000" stroke="#000" stroke-width="0.3" font-weight="normal">1</text><path d="M1628.25,171.5H1632.25" stroke="#111" stroke-width="1.7"/><text x="1626.95" y="174.69" font-size="10.3" text-anchor="end" fill="#000" stroke="#000" stroke-width="0.3" font-weight="normal">0</text><path d="M1667.25,171.75V175.75" stroke="#111" stroke-width="1.7"/><text x="1667.25" y="184.2" font-size="9.7" text-anchor="middle" fill="#000" stroke="#000" stroke-width="0.3">O-CON</text><path d="M1734.5,171.75V175.75" stroke="#111" stroke-width="1.7"/><text x="1734.5" y="184.2" font-size="9.7" text-anchor="middle" fill="#000" stroke="#000" stroke-width="0.3">O-PCOS</text><path d="M1667.38,74.5V75.5M1667.38,133.75V138M1656.56,74.5H1678.19M1656.56,138H1678.19M1645.75,116H1689" fill="none" stroke="#1410ee" stroke-width="1.7"/><rect x="1645.75" y="75.5" width="43.25" height="58.25" fill="none" stroke="#1410ee" stroke-width="1.7"/><path d="M1734.88,144.5V148.75M1734.88,159.25V160.75M1724.06,144.5H1745.69M1724.06,160.75H1745.69M1713.25,159.25H1756.5" fill="none" stroke="#6cc234" stroke-width="1.7"/><rect x="1713.25" y="148.75" width="43.25" height="10.5" fill="none" stroke="#6cc234" stroke-width="1.7"/><path d="M1667,57.75H1737" stroke="#aaa" stroke-width="1.1"/><text x="1704.3" y="56.65" font-size="6" font-weight="bold" text-anchor="middle" fill="#000" stroke="#000" stroke-width="0.5" letter-spacing="1.7">**</text></g>
<g><text x="1060.5" y="232.5" font-size="14.3" text-anchor="middle" fill="#111" letter-spacing="-0.4" stroke="#111" stroke-width="0.3">MMP12</text><text transform="translate(959,316.62) rotate(-90)" font-size="8.5" text-anchor="middle" fill="#111" stroke="#111" stroke-width="0.25" textLength="159.25" lengthAdjust="spacingAndGlyphs">relative expression in PCOS endometrium tissue</text><text transform="translate(968.3,316.62) rotate(-90)" font-size="8.5" text-anchor="middle" fill="#111" stroke="#111" stroke-width="0.25" textLength="74.25" lengthAdjust="spacingAndGlyphs">(normalized by β-actin)</text><path d="M992.75,248V384.5H1129.25" fill="none" stroke="#1a1a1a" stroke-width="1.7" stroke-linecap="square"/><path d="M988.75,248.25H992.75" stroke="#111" stroke-width="1.7"/><text x="987.45" y="251.44" font-size="10.3" text-anchor="end" fill="#000" stroke="#000" stroke-width="0.3" font-weight="normal">15</text><path d="M988.75,290.92H992.75" stroke="#111" stroke-width="1.7"/><text x="987.45" y="294.11" font-size="10.3" text-anchor="end" fill="#000" stroke="#000" stroke-width="0.3" font-weight="normal">10</text><path d="M988.75,333.58H992.75" stroke="#111" stroke-width="1.7"/><text x="987.45" y="336.78" font-size="10.3" text-anchor="end" fill="#000" stroke="#000" stroke-width="0.3" font-weight="normal">5</text><path d="M988.75,376.25H992.75" stroke="#111" stroke-width="1.7"/><text x="987.45" y="379.44" font-size="10.3" text-anchor="end" fill="#000" stroke="#000" stroke-width="0.3" font-weight="normal">0</text><path d="M1026.75,384.5V388.5" stroke="#111" stroke-width="1.7"/><text x="1026.75" y="397.95" font-size="9.7" text-anchor="middle" fill="#000" stroke="#000" stroke-width="0.3">O-CON</text><path d="M1094.75,384.5V388.5" stroke="#111" stroke-width="1.7"/><text x="1094.75" y="397.95" font-size="9.7" text-anchor="middle" fill="#000" stroke="#000" stroke-width="0.3">O-PCOS</text><path d="M1026.75,270.75V300.75M1026.75,367.5V369.5M1015.75,270.75H1037.75M1015.75,369.5H1037.75M1004.75,361.75H1048.75" fill="none" stroke="#1410ee" stroke-width="1.7"/><rect x="1004.75" y="300.75" width="44" height="66.75" fill="none" stroke="#1410ee" stroke-width="1.7"/><path d="M1094.75,342V364.5M1094.75,373V375M1083.75,342H1105.75M1083.75,375H1105.75M1072.75,371.75H1116.75" fill="none" stroke="#6cc234" stroke-width="1.7"/><rect x="1072.75" y="364.5" width="44" height="8.5" fill="none" stroke="#6cc234" stroke-width="1.7"/></g>
<g><text x="1272.25" y="235" font-size="14.3" text-anchor="middle" fill="#111" letter-spacing="-0.4" stroke="#111" stroke-width="0.3">MUC1</text><text transform="translate(1177.25,317.88) rotate(-90)" font-size="8.5" text-anchor="middle" fill="#111" stroke="#111" stroke-width="0.25" textLength="156.75" lengthAdjust="spacingAndGlyphs">relative expression in PCOS endometrium tissue</text><text transform="translate(1186.55,317.88) rotate(-90)" font-size="8.5" text-anchor="middle" fill="#111" stroke="#111" stroke-width="0.25" textLength="73.25" lengthAdjust="spacingAndGlyphs">(normalized by β-actin)</text><path d="M1202.25,250.5V384.5H1342.5" fill="none" stroke="#1a1a1a" stroke-width="1.7" stroke-linecap="square"/><path d="M1198.25,250.75H1202.25" stroke="#111" stroke-width="1.7"/><text x="1196.95" y="253.94" font-size="10.3" text-anchor="end" fill="#000" stroke="#000" stroke-width="0.3" font-weight="normal">6</text><path d="M1198.25,294.83H1202.25" stroke="#111" stroke-width="1.7"/><text x="1196.95" y="298.03" font-size="10.3" text-anchor="end" fill="#000" stroke="#000" stroke-width="0.3" font-weight="normal">4</text><path d="M1198.25,338.92H1202.25" stroke="#111" stroke-width="1.7"/><text x="1196.95" y="342.11" font-size="10.3" text-anchor="end" fill="#000" stroke="#000" stroke-width="0.3" font-weight="normal">2</text><path d="M1198.25,383H1202.25" stroke="#111" stroke-width="1.7"/><text x="1196.95" y="386.19" font-size="10.3" text-anchor="end" fill="#000" stroke="#000" stroke-width="0.3" font-weight="normal">0</text><path d="M1237.75,384.5V388.5" stroke="#111" stroke-width="1.7"/><text x="1237.75" y="397.95" font-size="9.7" text-anchor="middle" fill="#000" stroke="#000" stroke-width="0.3">O-CON</text><path d="M1307.25,384.5V388.5" stroke="#111" stroke-width="1.7"/><text x="1307.25" y="397.95" font-size="9.7" text-anchor="middle" fill="#000" stroke="#000" stroke-width="0.3">O-PCOS</text><path d="M1237.5,274.5V310.75M1237.5,361.25V367.75M1226.12,274.5H1248.88M1226.12,367.75H1248.88M1214.75,338H1260.25" fill="none" stroke="#1410ee" stroke-width="1.7"/><rect x="1214.75" y="310.75" width="45.5" height="50.5" fill="none" stroke="#1410ee" stroke-width="1.7"/><path d="M1307.25,349.25V368.75M1307.25,381.25V382.5M1295.88,349.25H1318.62M1295.88,382.5H1318.62M1284.5,377.5H1330" fill="none" stroke="#6cc234" stroke-width="1.7"/><rect x="1284.5" y="368.75" width="45.5" height="12.5" fill="none" stroke="#6cc234" stroke-width="1.7"/><path d="M1237.25,260.5H1309" stroke="#aaa" stroke-width="1.1"/><text x="1274.55" y="259.65" font-size="6" font-weight="bold" text-anchor="middle" fill="#000" stroke="#000" stroke-width="0.5" letter-spacing="1.7">**</text></g>
<g><text x="1482.5" y="235" font-size="14.3" text-anchor="middle" fill="#111" letter-spacing="-0.4" stroke="#111" stroke-width="0.3">LIF</text><text transform="translate(1380,317.88) rotate(-90)" font-size="8.5" text-anchor="middle" fill="#111" stroke="#111" stroke-width="0.25" textLength="156.75" lengthAdjust="spacingAndGlyphs">relative expression in PCOS endometrium tissue</text><text transform="translate(1389.3,317.88) rotate(-90)" font-size="8.5" text-anchor="middle" fill="#111" stroke="#111" stroke-width="0.25" textLength="73.25" lengthAdjust="spacingAndGlyphs">(normalized by β-actin)</text><path d="M1414.5,250.5V384.5H1551.25" fill="none" stroke="#1a1a1a" stroke-width="1.7" stroke-linecap="square"/><path d="M1410.5,250.75H1414.5" stroke="#111" stroke-width="1.7"/><text x="1409.2" y="253.94" font-size="10.3" text-anchor="end" fill="#000" stroke="#000" stroke-width="0.3" font-weight="normal">10</text><path d="M1410.5,277.5H1414.5" stroke="#111" stroke-width="1.7"/><text x="1409.2" y="280.69" font-size="10.3" text-anchor="end" fill="#000" stroke="#000" stroke-width="0.3" font-weight="normal">8</text><path d="M1410.5,304.25H1414.5" stroke="#111" stroke-width="1.7"/><text x="1409.2" y="307.44" font-size="10.3" text-anchor="end" fill="#000" stroke="#000" stroke-width="0.3" font-weight="normal">6</text><path d="M1410.5,331H1414.5" stroke="#111" stroke-width="1.7"/><text x="1409.2" y="334.19" font-size="10.3" text-anchor="end" fill="#000" stroke="#000" stroke-width="0.3" font-weight="normal">4</text><path d="M1410.5,357.75H1414.5" stroke="#111" stroke-width="1.7"/><text x="1409.2" y="360.94" font-size="10.3" text-anchor="end" fill="#000" stroke="#000" stroke-width="0.3" font-weight="normal">2</text><path d="M1410.5,384.5H1414.5" stroke="#111" stroke-width="1.7"/><text x="1409.2" y="387.69" font-size="10.3" text-anchor="end" fill="#000" stroke="#000" stroke-width="0.3" font-weight="normal">0</text><path d="M1449.25,384.5V388.5" stroke="#111" stroke-width="1.7"/><text x="1449.25" y="397.95" font-size="9.7" text-anchor="middle" fill="#000" stroke="#000" stroke-width="0.3">O-CON</text><path d="M1516.75,384.5V388.5" stroke="#111" stroke-width="1.7"/><text x="1516.75" y="397.95" font-size="9.7" text-anchor="middle" fill="#000" stroke="#000" stroke-width="0.3">O-PCOS</text><path d="M1448.75,285.5V333.75M1448.75,383V384M1437.88,285.5H1459.62M1437.88,384H1459.62M1427,376.25H1470.5" fill="none" stroke="#1410ee" stroke-width="1.7"/><rect x="1427" y="333.75" width="43.5" height="49.25" fill="none" stroke="#1410ee" stroke-width="1.7"/><path d="M1516.88,378V380.75M1516.88,383.75V384.25M1505.94,378H1527.81M1505.94,384.25H1527.81M1495,382.5H1538.75" fill="none" stroke="#6cc234" stroke-width="1.7"/><rect x="1495" y="380.75" width="43.75" height="3" fill="none" stroke="#6cc234" stroke-width="1.7"/><path d="M1449.25,264.25H1520.5" stroke="#aaa" stroke-width="1.1"/><text x="1483.2" y="263.4" font-size="6" font-weight="bold" text-anchor="middle" fill="#000" stroke="#000" stroke-width="0.5" letter-spacing="0">*</text></g>
<g><text x="1692.5" y="235" font-size="14.3" text-anchor="middle" fill="#111" letter-spacing="-0.4" stroke="#111" stroke-width="0.3">IGFBP1</text><text transform="translate(1591.25,317.88) rotate(-90)" font-size="8.5" text-anchor="middle" fill="#111" stroke="#111" stroke-width="0.25" textLength="156.75" lengthAdjust="spacingAndGlyphs">relative expression in PCOS endometrium tissue</text><text transform="translate(1600.55,317.88) rotate(-90)" font-size="8.5" text-anchor="middle" fill="#111" stroke="#111" stroke-width="0.25" textLength="73.25" lengthAdjust="spacingAndGlyphs">(normalized by β-actin)</text><path d="M1625,250.5V384.5H1760.6" fill="none" stroke="#1a1a1a" stroke-width="1.7" stroke-linecap="square"/><path d="M1621,250.75H1625" stroke="#111" stroke-width="1.7"/><text x="1619.7" y="253.94" font-size="10.3" text-anchor="end" fill="#000" stroke="#000" stroke-width="0.3" font-weight="normal">10</text><path d="M1621,277.5H1625" stroke="#111" stroke-width="1.7"/><text x="1619.7" y="280.69" font-size="10.3" text-anchor="end" fill="#000" stroke="#000" stroke-width="0.3" font-weight="normal">8</text><path d="M1621,304.25H1625" stroke="#111" stroke-width="1.7"/><text x="1619.7" y="307.44" font-size="10.3" text-anchor="end" fill="#000" stroke="#000" stroke-width="0.3" font-weight="normal">6</text><path d="M1621,331H1625" stroke="#111" stroke-width="1.7"/><text x="1619.7" y="334.19" font-size="10.3" text-anchor="end" fill="#000" stroke="#000" stroke-width="0.3" font-weight="normal">4</text><path d="M1621,357.75H1625" stroke="#111" stroke-width="1.7"/><text x="1619.7" y="360.94" font-size="10.3" text-anchor="end" fill="#000" stroke="#000" stroke-width="0.3" font-weight="normal">2</text><path d="M1621,384.5H1625" stroke="#111" stroke-width="1.7"/><text x="1619.7" y="387.69" font-size="10.3" text-anchor="end" fill="#000" stroke="#000" stroke-width="0.3" font-weight="normal">0</text><path d="M1658.9,384.5V388.5" stroke="#111" stroke-width="1.7"/><text x="1658.9" y="397.6" font-size="9.7" text-anchor="middle" fill="#000" stroke="#000" stroke-width="0.3">O-CON</text><path d="M1726.3,384.5V388.5" stroke="#111" stroke-width="1.7"/><text x="1726.3" y="397.6" font-size="9.7" text-anchor="middle" fill="#000" stroke="#000" stroke-width="0.3">O-PCOS</text><path d="M1659.15,274.6V277.1M1659.15,354.5V371.4M1648.38,274.6H1669.93M1648.38,371.4H1669.93M1637.6,341.4H1680.7" fill="none" stroke="#1410ee" stroke-width="1.7"/><rect x="1637.6" y="277.1" width="43.1" height="77.4" fill="none" stroke="#1410ee" stroke-width="1.7"/><path d="M1726.4,313.5V330M1726.4,379V380M1715.4,313.5H1737.4M1715.4,380H1737.4M1704.4,361H1748.4" fill="none" stroke="#6cc234" stroke-width="1.7"/><rect x="1704.4" y="330" width="44" height="49" fill="none" stroke="#6cc234" stroke-width="1.7"/></g>
<g><text x="1060.5" y="435.75" font-size="14.3" text-anchor="middle" fill="#111" letter-spacing="-0.4" stroke="#111" stroke-width="0.3">MMP26</text><text transform="translate(959.25,520.25) rotate(-90)" font-size="8.5" text-anchor="middle" fill="#111" stroke="#111" stroke-width="0.25" textLength="159.5" lengthAdjust="spacingAndGlyphs">relative expression in PCOS endometrium tissue</text><text transform="translate(968.55,519.38) rotate(-90)" font-size="8.5" text-anchor="middle" fill="#111" stroke="#111" stroke-width="0.25" textLength="73.75" lengthAdjust="spacingAndGlyphs">(normalized by β-actin)</text><path d="M992.75,451.75V588.25H1129.25" fill="none" stroke="#1a1a1a" stroke-width="1.7" stroke-linecap="square"/><path d="M988.75,452H992.75" stroke="#111" stroke-width="1.7"/><text x="987.45" y="455.19" font-size="10.3" text-anchor="end" fill="#000" stroke="#000" stroke-width="0.3" font-weight="normal">20</text><path d="M988.75,482.94H992.75" stroke="#111" stroke-width="1.7"/><text x="987.45" y="486.13" font-size="10.3" text-anchor="end" fill="#000" stroke="#000" stroke-width="0.3" font-weight="normal">15</text><path d="M988.75,513.88H992.75" stroke="#111" stroke-width="1.7"/><text x="987.45" y="517.07" font-size="10.3" text-anchor="end" fill="#000" stroke="#000" stroke-width="0.3" font-weight="normal">10</text><path d="M988.75,544.81H992.75" stroke="#111" stroke-width="1.7"/><text x="987.45" y="548.01" font-size="10.3" text-anchor="end" fill="#000" stroke="#000" stroke-width="0.3" font-weight="normal">5</text><path d="M988.75,575.75H992.75" stroke="#111" stroke-width="1.7"/><text x="987.45" y="578.94" font-size="10.3" text-anchor="end" fill="#000" stroke="#000" stroke-width="0.3" font-weight="normal">0</text><path d="M1026.75,588.25V592.25" stroke="#111" stroke-width="1.7"/><text x="1026.75" y="601.2" font-size="9.7" text-anchor="middle" fill="#000" stroke="#000" stroke-width="0.3">O-CON</text><path d="M1094.75,588.25V592.25" stroke="#111" stroke-width="1.7"/><text x="1094.75" y="601.2" font-size="9.7" text-anchor="middle" fill="#000" stroke="#000" stroke-width="0.3">O-PCOS</text><path d="M1027.12,498V547.25M1027.12,570V573M1016.19,498H1038.06M1016.19,573H1038.06M1005.25,565.5H1049" fill="none" stroke="#1410ee" stroke-width="1.7"/><rect x="1005.25" y="547.25" width="43.75" height="22.75" fill="none" stroke="#1410ee" stroke-width="1.7"/><path d="M1094.88,521.25V558.25M1094.88,574V575M1083.94,521.25H1105.81M1083.94,575H1105.81M1073,573H1116.75" fill="none" stroke="#6cc234" stroke-width="1.7"/><rect x="1073" y="558.25" width="43.75" height="15.75" fill="none" stroke="#6cc234" stroke-width="1.7"/></g>
<g><text x="1276" y="435.75" font-size="14.3" text-anchor="middle" fill="#111" letter-spacing="-0.4" stroke="#111" stroke-width="0.3">PGRMC1</text><text transform="translate(1175.25,520.25) rotate(-90)" font-size="8.5" text-anchor="middle" fill="#111" stroke="#111" stroke-width="0.25" textLength="159.5" lengthAdjust="spacingAndGlyphs">relative expression in PCOS endometrium tissue</text><text transform="translate(1184.55,519.38) rotate(-90)" font-size="8.5" text-anchor="middle" fill="#111" stroke="#111" stroke-width="0.25" textLength="73.75" lengthAdjust="spacingAndGlyphs">(normalized by β-actin)</text><path d="M1209,451.75V588.25H1345.5" fill="none" stroke="#1a1a1a" stroke-width="1.7" stroke-linecap="square"/><path d="M1205,452H1209" stroke="#111" stroke-width="1.7"/><text x="1203.7" y="455.19" font-size="10.3" text-anchor="end" fill="#000" stroke="#000" stroke-width="0.3" font-weight="normal">10</text><path d="M1205,479.25H1209" stroke="#111" stroke-width="1.7"/><text x="1203.7" y="482.44" font-size="10.3" text-anchor="end" fill="#000" stroke="#000" stroke-width="0.3" font-weight="normal">8</text><path d="M1205,506.5H1209" stroke="#111" stroke-width="1.7"/><text x="1203.7" y="509.69" font-size="10.3" text-anchor="end" fill="#000" stroke="#000" stroke-width="0.3" font-weight="normal">6</text><path d="M1205,533.75H1209" stroke="#111" stroke-width="1.7"/><text x="1203.7" y="536.94" font-size="10.3" text-anchor="end" fill="#000" stroke="#000" stroke-width="0.3" font-weight="normal">4</text><path d="M1205,561H1209" stroke="#111" stroke-width="1.7"/><text x="1203.7" y="564.19" font-size="10.3" text-anchor="end" fill="#000" stroke="#000" stroke-width="0.3" font-weight="normal">2</text><path d="M1205,588.25H1209" stroke="#111" stroke-width="1.7"/><text x="1203.7" y="591.44" font-size="10.3" text-anchor="end" fill="#000" stroke="#000" stroke-width="0.3" font-weight="normal">0</text><path d="M1242.75,588.25V592.25" stroke="#111" stroke-width="1.7"/><text x="1242.75" y="601.2" font-size="9.7" text-anchor="middle" fill="#000" stroke="#000" stroke-width="0.3">O-CON</text><path d="M1310.75,588.25V592.25" stroke="#111" stroke-width="1.7"/><text x="1310.75" y="601.2" font-size="9.7" text-anchor="middle" fill="#000" stroke="#000" stroke-width="0.3">O-PCOS</text><path d="M1242.62,513.75V538M1242.62,569.25V574.25M1231.56,513.75H1253.69M1231.56,574.25H1253.69M1220.5,560.75H1264.75" fill="none" stroke="#1410ee" stroke-width="1.7"/><rect x="1220.5" y="538" width="44.25" height="31.25" fill="none" stroke="#1410ee" stroke-width="1.7"/><path d="M1310.75,562V579M1310.75,582V585M1299.5,562H1322M1299.5,585H1322M1288.25,580.75H1333.25" fill="none" stroke="#6cc234" stroke-width="1.7"/><rect x="1288.25" y="579" width="45" height="3" fill="none" stroke="#6cc234" stroke-width="1.7"/><path d="M1242.25,470.75H1314.75" stroke="#aaa" stroke-width="1.1"/><text x="1279.55" y="469.15" font-size="6" font-weight="bold" text-anchor="middle" fill="#000" stroke="#000" stroke-width="0.5" letter-spacing="1.7">**</text></g>
<g><text x="1480" y="434.25" font-size="14.3" text-anchor="middle" fill="#111" letter-spacing="-0.4" stroke="#111" stroke-width="0.3">SELE</text><text transform="translate(1385,520.38) rotate(-90)" font-size="8.5" text-anchor="middle" fill="#111" stroke="#111" stroke-width="0.25" textLength="163.25" lengthAdjust="spacingAndGlyphs">relative expression in PCOS endometrium tissue</text><text transform="translate(1394.3,520.25) rotate(-90)" font-size="8.5" text-anchor="middle" fill="#111" stroke="#111" stroke-width="0.25" textLength="75.5" lengthAdjust="spacingAndGlyphs">(normalized by β-actin)</text><path d="M1410,450V589.5H1550" fill="none" stroke="#1a1a1a" stroke-width="1.7" stroke-linecap="square"/><path d="M1406,450.5H1410" stroke="#111" stroke-width="1.7"/><text x="1404.7" y="453.69" font-size="10.3" text-anchor="end" fill="#000" stroke="#000" stroke-width="0.3" font-weight="normal">6</text><path d="M1406,496.83H1410" stroke="#111" stroke-width="1.7"/><text x="1404.7" y="500.03" font-size="10.3" text-anchor="end" fill="#000" stroke="#000" stroke-width="0.3" font-weight="normal">4</text><path d="M1406,543.17H1410" stroke="#111" stroke-width="1.7"/><text x="1404.7" y="546.36" font-size="10.3" text-anchor="end" fill="#000" stroke="#000" stroke-width="0.3" font-weight="normal">2</text><path d="M1406,589.5H1410" stroke="#111" stroke-width="1.7"/><text x="1404.7" y="592.69" font-size="10.3" text-anchor="end" fill="#000" stroke="#000" stroke-width="0.3" font-weight="normal">0</text><path d="M1445,589.5V593.5" stroke="#111" stroke-width="1.7"/><text x="1445" y="602.95" font-size="9.7" text-anchor="middle" fill="#000" stroke="#000" stroke-width="0.3">O-CON</text><path d="M1515,589.5V593.5" stroke="#111" stroke-width="1.7"/><text x="1515" y="602.95" font-size="9.7" text-anchor="middle" fill="#000" stroke="#000" stroke-width="0.3">O-PCOS</text><path d="M1445,460.5V509.5M1445,563V572.5M1433.75,460.5H1456.25M1433.75,572.5H1456.25M1422.5,551.75H1467.5" fill="none" stroke="#1410ee" stroke-width="2.2"/><rect x="1422.5" y="509.5" width="45" height="53.5" fill="none" stroke="#1410ee" stroke-width="2.2"/><path d="M1515,536.25V554.25M1515,582.5V587M1503.75,536.25H1526.25M1503.75,587H1526.25M1492.5,574.25H1537.5" fill="none" stroke="#6cc234" stroke-width="2.2"/><rect x="1492.5" y="554.25" width="45" height="28.25" fill="none" stroke="#6cc234" stroke-width="2.2"/></g>
<g><text x="1700.75" y="437" font-size="14.3" text-anchor="middle" fill="#111" letter-spacing="-0.4" stroke="#111" stroke-width="0.3">WNT4</text><text transform="translate(1599.5,520) rotate(-90)" font-size="8.5" text-anchor="middle" fill="#111" stroke="#111" stroke-width="0.25" textLength="157.5" lengthAdjust="spacingAndGlyphs">relative expression in PCOS endometrium tissue</text><text transform="translate(1608.8,519.75) rotate(-90)" font-size="8.5" text-anchor="middle" fill="#111" stroke="#111" stroke-width="0.25" textLength="74.5" lengthAdjust="spacingAndGlyphs">(normalized by β-actin)</text><path d="M1632.5,452.5V587.5H1769.2" fill="none" stroke="#1a1a1a" stroke-width="1.7" stroke-linecap="square"/><path d="M1628.5,453H1632.5" stroke="#111" stroke-width="1.7"/><text x="1627.2" y="456.19" font-size="10.3" text-anchor="end" fill="#000" stroke="#000" stroke-width="0.3" font-weight="normal">10</text><path d="M1628.5,479.9H1632.5" stroke="#111" stroke-width="1.7"/><text x="1627.2" y="483.09" font-size="10.3" text-anchor="end" fill="#000" stroke="#000" stroke-width="0.3" font-weight="normal">8</text><path d="M1628.5,506.8H1632.5" stroke="#111" stroke-width="1.7"/><text x="1627.2" y="509.99" font-size="10.3" text-anchor="end" fill="#000" stroke="#000" stroke-width="0.3" font-weight="normal">6</text><path d="M1628.5,533.7H1632.5" stroke="#111" stroke-width="1.7"/><text x="1627.2" y="536.89" font-size="10.3" text-anchor="end" fill="#000" stroke="#000" stroke-width="0.3" font-weight="normal">4</text><path d="M1628.5,560.6H1632.5" stroke="#111" stroke-width="1.7"/><text x="1627.2" y="563.79" font-size="10.3" text-anchor="end" fill="#000" stroke="#000" stroke-width="0.3" font-weight="normal">2</text><path d="M1628.5,587.5H1632.5" stroke="#111" stroke-width="1.7"/><text x="1627.2" y="590.69" font-size="10.3" text-anchor="end" fill="#000" stroke="#000" stroke-width="0.3" font-weight="normal">0</text><path d="M1667.5,587.5V591.5" stroke="#111" stroke-width="1.7"/><text x="1667.5" y="600.45" font-size="9.7" text-anchor="middle" fill="#000" stroke="#000" stroke-width="0.3">O-CON</text><path d="M1734.9,587.5V591.5" stroke="#111" stroke-width="1.7"/><text x="1734.9" y="600.45" font-size="9.7" text-anchor="middle" fill="#000" stroke="#000" stroke-width="0.3">O-PCOS</text><path d="M1667.5,485.75V505M1667.5,552V574M1656.6,485.75H1678.4M1656.6,574H1678.4M1645.7,527H1689.3" fill="none" stroke="#1410ee" stroke-width="1.7"/><rect x="1645.7" y="505" width="43.6" height="47" fill="none" stroke="#1410ee" stroke-width="1.7"/><path d="M1734.7,533.6V534.5M1734.7,582.1V582.9M1723.7,533.6H1745.7M1723.7,582.9H1745.7M1712.7,566.3H1756.7" fill="none" stroke="#6cc234" stroke-width="1.7"/><rect x="1712.7" y="534.5" width="44" height="47.6" fill="none" stroke="#6cc234" stroke-width="1.7"/></g>
<g><text x="153.75" y="684.25" font-size="14.3" text-anchor="middle" fill="#111" letter-spacing="-0.4" stroke="#111" stroke-width="0.3">IL2</text><text transform="translate(51.25,761.5) rotate(-90)" font-size="8.5" text-anchor="middle" fill="#111" stroke="#111" stroke-width="0.25" textLength="162" lengthAdjust="spacingAndGlyphs">relative expression in PCOS endometrium tissue</text><text transform="translate(60.55,761.62) rotate(-90)" font-size="8.5" text-anchor="middle" fill="#111" stroke="#111" stroke-width="0.25" textLength="75.75" lengthAdjust="spacingAndGlyphs">(normalized by β-actin)</text><path d="M84.5,689.5V833H223.25" fill="none" stroke="#1a1a1a" stroke-width="1.7" stroke-linecap="square"/><path d="M80.5,690H84.5" stroke="#111" stroke-width="1.7"/><text x="79.2" y="693.19" font-size="10.3" text-anchor="end" fill="#000" stroke="#000" stroke-width="0.3" font-weight="normal">30</text><path d="M80.5,733.33H84.5" stroke="#111" stroke-width="1.7"/><text x="79.2" y="736.53" font-size="10.3" text-anchor="end" fill="#000" stroke="#000" stroke-width="0.3" font-weight="normal">20</text><path d="M80.5,776.67H84.5" stroke="#111" stroke-width="1.7"/><text x="79.2" y="779.86" font-size="10.3" text-anchor="end" fill="#000" stroke="#000" stroke-width="0.3" font-weight="normal">10</text><path d="M80.5,820H84.5" stroke="#111" stroke-width="1.7"/><text x="79.2" y="823.19" font-size="10.3" text-anchor="end" fill="#000" stroke="#000" stroke-width="0.3" font-weight="normal">0</text><path d="M119.25,833V837" stroke="#111" stroke-width="1.7"/><text x="119.25" y="845.95" font-size="9.7" text-anchor="middle" fill="#000" stroke="#000" stroke-width="0.3">N-CON</text><path d="M188.75,833V837" stroke="#111" stroke-width="1.7"/><text x="188.75" y="845.95" font-size="9.7" text-anchor="middle" fill="#000" stroke="#000" stroke-width="0.3">N-PCOS</text><path d="M119.25,808V812.5M119.25,817V818M108,808H130.5M108,818H130.5M96.75,815H141.75" fill="none" stroke="#1410ee" stroke-width="1.7"/><rect x="96.75" y="812.5" width="45" height="4.5" fill="none" stroke="#1410ee" stroke-width="1.7"/><path d="M188.5,729.5V780M188.5,817V819.25M177.12,729.5H199.88M177.12,819.25H199.88M165.75,816.25H211.25" fill="none" stroke="#d42020" stroke-width="1.7"/><rect x="165.75" y="780" width="45.5" height="37" fill="none" stroke="#d42020" stroke-width="1.7"/></g>
<g><text x="368" y="682" font-size="14.3" text-anchor="middle" fill="#111" letter-spacing="-0.4" stroke="#111" stroke-width="0.3">IL2RG</text><text transform="translate(268.75,765.88) rotate(-90)" font-size="8.5" text-anchor="middle" fill="#111" stroke="#111" stroke-width="0.25" textLength="158.25" lengthAdjust="spacingAndGlyphs">relative expression in PCOS endometrium tissue</text><text transform="translate(278.05,766) rotate(-90)" font-size="8.5" text-anchor="middle" fill="#111" stroke="#111" stroke-width="0.25" textLength="73" lengthAdjust="spacingAndGlyphs">(normalized by β-actin)</text><path d="M299.25,697.5V833.25H436.75" fill="none" stroke="#1a1a1a" stroke-width="1.7" stroke-linecap="square"/><path d="M295.25,698H299.25" stroke="#111" stroke-width="1.7"/><text x="293.95" y="701.19" font-size="10.3" text-anchor="end" fill="#000" stroke="#000" stroke-width="0.3" font-weight="normal">2.0</text><path d="M295.25,725.12H299.25" stroke="#111" stroke-width="1.7"/><text x="293.95" y="728.32" font-size="10.3" text-anchor="end" fill="#000" stroke="#000" stroke-width="0.3" font-weight="normal">1.5</text><path d="M295.25,752.25H299.25" stroke="#111" stroke-width="1.7"/><text x="293.95" y="755.44" font-size="10.3" text-anchor="end" fill="#000" stroke="#000" stroke-width="0.3" font-weight="normal">1.0</text><path d="M295.25,779.38H299.25" stroke="#111" stroke-width="1.7"/><text x="293.95" y="782.57" font-size="10.3" text-anchor="end" fill="#000" stroke="#000" stroke-width="0.3" font-weight="normal">0.5</text><path d="M295.25,806.5H299.25" stroke="#111" stroke-width="1.7"/><text x="293.95" y="809.69" font-size="10.3" text-anchor="end" fill="#000" stroke="#000" stroke-width="0.3" font-weight="normal">0.0</text><path d="M333.75,833.25V837.25" stroke="#111" stroke-width="1.7"/><text x="333.75" y="846.7" font-size="9.7" text-anchor="middle" fill="#000" stroke="#000" stroke-width="0.3">N-CON</text><path d="M402.5,833.25V837.25" stroke="#111" stroke-width="1.7"/><text x="402.5" y="846.7" font-size="9.7" text-anchor="middle" fill="#000" stroke="#000" stroke-width="0.3">N-PCOS</text><path d="M333.75,752V795.5M333.75,802.5V805.5M322.75,752H344.75M322.75,805.5H344.75M311.75,801.5H355.75" fill="none" stroke="#1410ee" stroke-width="1.7"/><rect x="311.75" y="795.5" width="44" height="7" fill="none" stroke="#1410ee" stroke-width="1.7"/><path d="M402.12,777V793.75M402.12,800.75V803M391.06,777H413.19M391.06,803H413.19M380,800H424.25" fill="none" stroke="#d42020" stroke-width="1.7"/><rect x="380" y="793.75" width="44.25" height="7" fill="none" stroke="#d42020" stroke-width="1.7"/></g>
<g><text x="585" y="682.5" font-size="14.3" text-anchor="middle" fill="#111" letter-spacing="-0.4" stroke="#111" stroke-width="0.3">IL5RA</text><text transform="translate(482.5,765.75) rotate(-90)" font-size="8.5" text-anchor="middle" fill="#111" stroke="#111" stroke-width="0.25" textLength="157.5" lengthAdjust="spacingAndGlyphs">relative expression in PCOS endometrium tissue</text><text transform="translate(491.8,766) rotate(-90)" font-size="8.5" text-anchor="middle" fill="#111" stroke="#111" stroke-width="0.25" textLength="73" lengthAdjust="spacingAndGlyphs">(normalized by β-actin)</text><path d="M516.75,698V833.75H653" fill="none" stroke="#1a1a1a" stroke-width="1.7" stroke-linecap="square"/><path d="M512.75,698.25H516.75" stroke="#111" stroke-width="1.7"/><text x="511.45" y="701.44" font-size="10.3" text-anchor="end" fill="#000" stroke="#000" stroke-width="0.3" font-weight="normal">40</text><path d="M512.75,732.12H516.75" stroke="#111" stroke-width="1.7"/><text x="511.45" y="735.32" font-size="10.3" text-anchor="end" fill="#000" stroke="#000" stroke-width="0.3" font-weight="normal">30</text><path d="M512.75,766H516.75" stroke="#111" stroke-width="1.7"/><text x="511.45" y="769.19" font-size="10.3" text-anchor="end" fill="#000" stroke="#000" stroke-width="0.3" font-weight="normal">20</text><path d="M512.75,799.88H516.75" stroke="#111" stroke-width="1.7"/><text x="511.45" y="803.07" font-size="10.3" text-anchor="end" fill="#000" stroke="#000" stroke-width="0.3" font-weight="normal">10</text><path d="M512.75,833.75H516.75" stroke="#111" stroke-width="1.7"/><text x="511.45" y="836.94" font-size="10.3" text-anchor="end" fill="#000" stroke="#000" stroke-width="0.3" font-weight="normal">0</text><path d="M551,833.75V837.75" stroke="#111" stroke-width="1.7"/><text x="551" y="846.7" font-size="9.7" text-anchor="middle" fill="#000" stroke="#000" stroke-width="0.3">N-CON</text><path d="M618.75,833.75V837.75" stroke="#111" stroke-width="1.7"/><text x="618.75" y="846.7" font-size="9.7" text-anchor="middle" fill="#000" stroke="#000" stroke-width="0.3">N-PCOS</text><path d="M550.88,815.5V820M550.88,830V833M539.81,815.5H561.94M539.81,833H561.94M528.75,825H573" fill="none" stroke="#1410ee" stroke-width="1.7"/><rect x="528.75" y="820" width="44.25" height="10" fill="none" stroke="#1410ee" stroke-width="1.7"/><path d="M618.62,727.5V774.25M618.62,823.25V829.5M607.69,727.5H629.56M607.69,829.5H629.56M596.75,805H640.5" fill="none" stroke="#d42020" stroke-width="1.7"/><rect x="596.75" y="774.25" width="43.75" height="49" fill="none" stroke="#d42020" stroke-width="1.7"/></g>
<g><text x="806.75" y="680" font-size="14.3" text-anchor="middle" fill="#111" letter-spacing="-0.4" stroke="#111" stroke-width="0.3">RELA</text><text transform="translate(705.5,764.25) rotate(-90)" font-size="8.5" text-anchor="middle" fill="#111" stroke="#111" stroke-width="0.25" textLength="160" lengthAdjust="spacingAndGlyphs">relative expression in PCOS endometrium tissue</text><text transform="translate(714.8,763.12) rotate(-90)" font-size="8.5" text-anchor="middle" fill="#111" stroke="#111" stroke-width="0.25" textLength="73.75" lengthAdjust="spacingAndGlyphs">(normalized by β-actin)</text><path d="M738,695.5V832.5H875.5" fill="none" stroke="#1a1a1a" stroke-width="1.7" stroke-linecap="square"/><path d="M734,695.75H738" stroke="#111" stroke-width="1.7"/><text x="732.7" y="698.94" font-size="10.3" text-anchor="end" fill="#000" stroke="#000" stroke-width="0.3" font-weight="normal">6</text><path d="M734,741.33H738" stroke="#111" stroke-width="1.7"/><text x="732.7" y="744.53" font-size="10.3" text-anchor="end" fill="#000" stroke="#000" stroke-width="0.3" font-weight="normal">4</text><path d="M734,786.92H738" stroke="#111" stroke-width="1.7"/><text x="732.7" y="790.11" font-size="10.3" text-anchor="end" fill="#000" stroke="#000" stroke-width="0.3" font-weight="normal">2</text><path d="M734,832.5H738" stroke="#111" stroke-width="1.7"/><text x="732.7" y="835.69" font-size="10.3" text-anchor="end" fill="#000" stroke="#000" stroke-width="0.3" font-weight="normal">0</text><path d="M773,832.5V836.5" stroke="#111" stroke-width="1.7"/><text x="773" y="845.45" font-size="9.7" text-anchor="middle" fill="#000" stroke="#000" stroke-width="0.3">N-CON</text><path d="M841,832.5V836.5" stroke="#111" stroke-width="1.7"/><text x="841" y="845.45" font-size="9.7" text-anchor="middle" fill="#000" stroke="#000" stroke-width="0.3">N-PCOS</text><path d="M772.62,789.25V809.25M772.62,820.75V821.75M761.56,789.25H783.69M761.56,821.75H783.69M750.5,812H794.75" fill="none" stroke="#1410ee" stroke-width="1.7"/><rect x="750.5" y="809.25" width="44.25" height="11.5" fill="none" stroke="#1410ee" stroke-width="1.7"/><path d="M840.75,780V787M840.75,808.75V820M829.62,780H851.88M829.62,820H851.88M818.5,788.75H863" fill="none" stroke="#d42020" stroke-width="1.7"/><rect x="818.5" y="787" width="44.5" height="21.75" fill="none" stroke="#d42020" stroke-width="1.7"/><path d="M772.25,728.75H844.75" stroke="#aaa" stroke-width="1.1"/><text x="807.7" y="727.15" font-size="6" font-weight="bold" text-anchor="middle" fill="#000" stroke="#000" stroke-width="0.5" letter-spacing="0">*</text></g>
<g><text x="155.75" y="894.25" font-size="14.3" text-anchor="middle" fill="#111" letter-spacing="-0.4" stroke="#111" stroke-width="0.3">IL<tspan dx="1.6">18</tspan></text><text transform="translate(55.5,977.12) rotate(-90)" font-size="8.5" text-anchor="middle" fill="#111" stroke="#111" stroke-width="0.25" textLength="156.75" lengthAdjust="spacingAndGlyphs">relative expression in PCOS endometrium tissue</text><text transform="translate(64.8,977.12) rotate(-90)" font-size="8.5" text-anchor="middle" fill="#111" stroke="#111" stroke-width="0.25" textLength="73.25" lengthAdjust="spacingAndGlyphs">(normalized by β-actin)</text><path d="M88.75,909.25V1044.5H223" fill="none" stroke="#1a1a1a" stroke-width="1.7" stroke-linecap="square"/><path d="M84.75,909.5H88.75" stroke="#111" stroke-width="1.7"/><text x="83.45" y="912.69" font-size="10.3" text-anchor="end" fill="#000" stroke="#000" stroke-width="0.3" font-weight="normal">10</text><path d="M84.75,965.62H88.75" stroke="#111" stroke-width="1.7"/><text x="83.45" y="968.82" font-size="10.3" text-anchor="end" fill="#000" stroke="#000" stroke-width="0.3" font-weight="normal">5</text><path d="M84.75,1021.75H88.75" stroke="#111" stroke-width="1.7"/><text x="83.45" y="1024.94" font-size="10.3" text-anchor="end" fill="#000" stroke="#000" stroke-width="0.3" font-weight="normal">0</text><path d="M122.5,1044.5V1048.5" stroke="#111" stroke-width="1.7"/><text x="122.5" y="1057.2" font-size="9.7" text-anchor="middle" fill="#000" stroke="#000" stroke-width="0.3">N-CON</text><path d="M189.5,1044.5V1048.5" stroke="#111" stroke-width="1.7"/><text x="189.5" y="1057.2" font-size="9.7" text-anchor="middle" fill="#000" stroke="#000" stroke-width="0.3">N-PCOS</text><path d="M122.75,936.75V997.5M122.75,1017.5V1021.75M112,936.75H133.5M112,1021.75H133.5M101.25,1009.25H144.25" fill="none" stroke="#1410ee" stroke-width="1.7"/><rect x="101.25" y="997.5" width="43" height="20" fill="none" stroke="#1410ee" stroke-width="1.7"/><path d="M189.62,960.5V1007.5M189.62,1015.75V1021.75M178.81,960.5H200.44M178.81,1021.75H200.44M168,1014.25H211.25" fill="none" stroke="#d42020" stroke-width="1.7"/><rect x="168" y="1007.5" width="43.25" height="8.25" fill="none" stroke="#d42020" stroke-width="1.7"/></g>
<g><text x="369.5" y="891.75" font-size="14.3" text-anchor="middle" fill="#111" letter-spacing="-0.4" stroke="#111" stroke-width="0.3">IL6</text><text transform="translate(274.5,975.62) rotate(-90)" font-size="8.5" text-anchor="middle" fill="#111" stroke="#111" stroke-width="0.25" textLength="156.25" lengthAdjust="spacingAndGlyphs">relative expression in PCOS endometrium tissue</text><text transform="translate(283.8,976) rotate(-90)" font-size="8.5" text-anchor="middle" fill="#111" stroke="#111" stroke-width="0.25" textLength="73" lengthAdjust="spacingAndGlyphs">(normalized by β-actin)</text><path d="M302.5,906.25V1044.5H436.25" fill="none" stroke="#1a1a1a" stroke-width="1.7" stroke-linecap="square"/><path d="M298.5,906.75H302.5" stroke="#111" stroke-width="1.7"/><text x="297.2" y="909.94" font-size="10.3" text-anchor="end" fill="#000" stroke="#000" stroke-width="0.3" font-weight="normal">8</text><path d="M298.5,940.31H302.5" stroke="#111" stroke-width="1.7"/><text x="297.2" y="943.51" font-size="10.3" text-anchor="end" fill="#000" stroke="#000" stroke-width="0.3" font-weight="normal">6</text><path d="M298.5,973.88H302.5" stroke="#111" stroke-width="1.7"/><text x="297.2" y="977.07" font-size="10.3" text-anchor="end" fill="#000" stroke="#000" stroke-width="0.3" font-weight="normal">4</text><path d="M298.5,1007.44H302.5" stroke="#111" stroke-width="1.7"/><text x="297.2" y="1010.63" font-size="10.3" text-anchor="end" fill="#000" stroke="#000" stroke-width="0.3" font-weight="normal">2</text><path d="M298.5,1041H302.5" stroke="#111" stroke-width="1.7"/><text x="297.2" y="1044.19" font-size="10.3" text-anchor="end" fill="#000" stroke="#000" stroke-width="0.3" font-weight="normal">0</text><path d="M336.25,1044.5V1048.5" stroke="#111" stroke-width="1.7"/><text x="336.25" y="1057.2" font-size="9.7" text-anchor="middle" fill="#000" stroke="#000" stroke-width="0.3">N-CON</text><path d="M403,1044.5V1048.5" stroke="#111" stroke-width="1.7"/><text x="403" y="1057.2" font-size="9.7" text-anchor="middle" fill="#000" stroke="#000" stroke-width="0.3">N-PCOS</text><path d="M336.25,997.5V1010M336.25,1028V1033.25M325.38,997.5H347.12M325.38,1033.25H347.12M314.5,1013.75H358" fill="none" stroke="#1410ee" stroke-width="1.7"/><rect x="314.5" y="1010" width="43.5" height="18" fill="none" stroke="#1410ee" stroke-width="1.7"/><path d="M402.88,944.25V995.25M402.88,1033.25V1035.5M392.06,944.25H413.69M392.06,1035.5H413.69M381.25,1019.5H424.5" fill="none" stroke="#d42020" stroke-width="1.7"/><rect x="381.25" y="995.25" width="43.25" height="38" fill="none" stroke="#d42020" stroke-width="1.7"/></g>
<g><text x="583" y="894.25" font-size="14.3" text-anchor="middle" fill="#111" letter-spacing="-0.4" stroke="#111" stroke-width="0.3">IL6R</text><text transform="translate(482.5,977.5) rotate(-90)" font-size="8.5" text-anchor="middle" fill="#111" stroke="#111" stroke-width="0.25" textLength="157.5" lengthAdjust="spacingAndGlyphs">relative expression in PCOS endometrium tissue</text><text transform="translate(491.8,977.5) rotate(-90)" font-size="8.5" text-anchor="middle" fill="#111" stroke="#111" stroke-width="0.25" textLength="74" lengthAdjust="spacingAndGlyphs">(normalized by β-actin)</text><path d="M515.5,909.5V1045.5H650.5" fill="none" stroke="#1a1a1a" stroke-width="1.7" stroke-linecap="square"/><path d="M511.5,910H515.5" stroke="#111" stroke-width="1.7"/><text x="510.2" y="913.19" font-size="10.3" text-anchor="end" fill="#000" stroke="#000" stroke-width="0.3" font-weight="normal">2.0</text><path d="M511.5,942.25H515.5" stroke="#111" stroke-width="1.7"/><text x="510.2" y="945.44" font-size="10.3" text-anchor="end" fill="#000" stroke="#000" stroke-width="0.3" font-weight="normal">1.5</text><path d="M511.5,974.5H515.5" stroke="#111" stroke-width="1.7"/><text x="510.2" y="977.69" font-size="10.3" text-anchor="end" fill="#000" stroke="#000" stroke-width="0.3" font-weight="normal">1.0</text><path d="M511.5,1006.75H515.5" stroke="#111" stroke-width="1.7"/><text x="510.2" y="1009.94" font-size="10.3" text-anchor="end" fill="#000" stroke="#000" stroke-width="0.3" font-weight="normal">0.5</text><path d="M511.5,1039H515.5" stroke="#111" stroke-width="1.7"/><text x="510.2" y="1042.19" font-size="10.3" text-anchor="end" fill="#000" stroke="#000" stroke-width="0.3" font-weight="normal">0.0</text><path d="M549.75,1045.5V1049.5" stroke="#111" stroke-width="1.7"/><text x="549.75" y="1058.45" font-size="9.7" text-anchor="middle" fill="#000" stroke="#000" stroke-width="0.3">N-CON</text><path d="M616.75,1045.5V1049.5" stroke="#111" stroke-width="1.7"/><text x="616.75" y="1058.45" font-size="9.7" text-anchor="middle" fill="#000" stroke="#000" stroke-width="0.3">N-PCOS</text><path d="M549.38,974.5V1022M549.38,1030.75V1035M538.44,974.5H560.31M538.44,1035H560.31M527.5,1023.25H571.25" fill="none" stroke="#1410ee" stroke-width="1.7"/><rect x="527.5" y="1022" width="43.75" height="8.75" fill="none" stroke="#1410ee" stroke-width="1.7"/><path d="M616.75,970.5V1006.75M616.75,1023.5V1030.75M605.75,970.5H627.75M605.75,1030.75H627.75M594.75,1023.25H638.75" fill="none" stroke="#d42020" stroke-width="1.7"/><rect x="594.75" y="1006.75" width="44" height="16.75" fill="none" stroke="#d42020" stroke-width="1.7"/><path d="M546.75,940.25H618.5" stroke="#aaa" stroke-width="1.1"/><text x="583.2" y="938.9" font-size="6" font-weight="bold" text-anchor="middle" fill="#000" stroke="#000" stroke-width="0.5" letter-spacing="0">*</text></g>
<g><text x="807.25" y="893.25" font-size="14.3" text-anchor="middle" fill="#111" letter-spacing="-0.4" stroke="#111" stroke-width="0.3">IL15</text><text transform="translate(707.5,975.5) rotate(-90)" font-size="8.5" text-anchor="middle" fill="#111" stroke="#111" stroke-width="0.25" textLength="155" lengthAdjust="spacingAndGlyphs">relative expression in PCOS endometrium tissue</text><text transform="translate(716.8,975.62) rotate(-90)" font-size="8.5" text-anchor="middle" fill="#111" stroke="#111" stroke-width="0.25" textLength="72.25" lengthAdjust="spacingAndGlyphs">(normalized by β-actin)</text><path d="M741,909.25V1042H874.25" fill="none" stroke="#1a1a1a" stroke-width="1.7" stroke-linecap="square"/><path d="M737,909.5H741" stroke="#111" stroke-width="1.7"/><text x="735.7" y="912.69" font-size="10.3" text-anchor="end" fill="#000" stroke="#000" stroke-width="0.3" font-weight="normal">20</text><path d="M737,941.06H741" stroke="#111" stroke-width="1.7"/><text x="735.7" y="944.26" font-size="10.3" text-anchor="end" fill="#000" stroke="#000" stroke-width="0.3" font-weight="normal">15</text><path d="M737,972.62H741" stroke="#111" stroke-width="1.7"/><text x="735.7" y="975.82" font-size="10.3" text-anchor="end" fill="#000" stroke="#000" stroke-width="0.3" font-weight="normal">10</text><path d="M737,1004.19H741" stroke="#111" stroke-width="1.7"/><text x="735.7" y="1007.38" font-size="10.3" text-anchor="end" fill="#000" stroke="#000" stroke-width="0.3" font-weight="normal">5</text><path d="M737,1035.75H741" stroke="#111" stroke-width="1.7"/><text x="735.7" y="1038.94" font-size="10.3" text-anchor="end" fill="#000" stroke="#000" stroke-width="0.3" font-weight="normal">0</text><path d="M774.25,1042V1046" stroke="#111" stroke-width="1.7"/><text x="774.25" y="1054.95" font-size="9.7" text-anchor="middle" fill="#000" stroke="#000" stroke-width="0.3">N-CON</text><path d="M840.5,1042V1046" stroke="#111" stroke-width="1.7"/><text x="840.5" y="1054.95" font-size="9.7" text-anchor="middle" fill="#000" stroke="#000" stroke-width="0.3">N-PCOS</text><path d="M774.25,1006.25V1021.75M774.25,1032V1034.5M763.62,1006.25H784.88M763.62,1034.5H784.88M753,1028H795.5" fill="none" stroke="#1410ee" stroke-width="1.7"/><rect x="753" y="1021.75" width="42.5" height="10.25" fill="none" stroke="#1410ee" stroke-width="1.7"/><path d="M840.75,953V1025.5M840.75,1031.75V1034.5M830,953H851.5M830,1034.5H851.5M819.25,1028.75H862.25" fill="none" stroke="#d42020" stroke-width="1.7"/><rect x="819.25" y="1025.5" width="43" height="6.25" fill="none" stroke="#d42020" stroke-width="1.7"/></g>
<g><text x="1060.5" y="682.5" font-size="14.3" text-anchor="middle" fill="#111" letter-spacing="-0.4" stroke="#111" stroke-width="0.3">IL2</text><text transform="translate(959,766.62) rotate(-90)" font-size="8.5" text-anchor="middle" fill="#111" stroke="#111" stroke-width="0.25" textLength="159.25" lengthAdjust="spacingAndGlyphs">relative expression in PCOS endometrium tissue</text><text transform="translate(968.3,766.62) rotate(-90)" font-size="8.5" text-anchor="middle" fill="#111" stroke="#111" stroke-width="0.25" textLength="74.25" lengthAdjust="spacingAndGlyphs">(normalized by β-actin)</text><path d="M992.75,698.25V835H1129.25" fill="none" stroke="#1a1a1a" stroke-width="1.7" stroke-linecap="square"/><path d="M988.75,698.75H992.75" stroke="#111" stroke-width="1.7"/><text x="987.45" y="701.94" font-size="10.3" text-anchor="end" fill="#000" stroke="#000" stroke-width="0.3" font-weight="normal">60</text><path d="M988.75,742.5H992.75" stroke="#111" stroke-width="1.7"/><text x="987.45" y="745.69" font-size="10.3" text-anchor="end" fill="#000" stroke="#000" stroke-width="0.3" font-weight="normal">40</text><path d="M988.75,786.25H992.75" stroke="#111" stroke-width="1.7"/><text x="987.45" y="789.44" font-size="10.3" text-anchor="end" fill="#000" stroke="#000" stroke-width="0.3" font-weight="normal">20</text><path d="M988.75,830H992.75" stroke="#111" stroke-width="1.7"/><text x="987.45" y="833.19" font-size="10.3" text-anchor="end" fill="#000" stroke="#000" stroke-width="0.3" font-weight="normal">0</text><path d="M1026.75,835V839" stroke="#111" stroke-width="1.7"/><text x="1026.75" y="847.95" font-size="9.7" text-anchor="middle" fill="#000" stroke="#000" stroke-width="0.3">O-CON</text><path d="M1094.75,835V839" stroke="#111" stroke-width="1.7"/><text x="1094.75" y="847.95" font-size="9.7" text-anchor="middle" fill="#000" stroke="#000" stroke-width="0.3">O-PCOS</text><path d="M1026.88,823.25V824.5M1026.88,828V828.5M1015.81,823.25H1037.94M1015.81,828.5H1037.94M1004.75,826.25H1049" fill="none" stroke="#1410ee" stroke-width="1.7"/><rect x="1004.75" y="824.5" width="44.25" height="3.5" fill="none" stroke="#1410ee" stroke-width="1.7"/><path d="M1094.88,709.25V775.5M1094.88,820V823M1083.94,709.25H1105.81M1083.94,823H1105.81M1073,815.5H1116.75" fill="none" stroke="#6cc234" stroke-width="1.7"/><rect x="1073" y="775.5" width="43.75" height="44.5" fill="none" stroke="#6cc234" stroke-width="1.7"/><path d="M1026.5,701.25H1093.5" stroke="#aaa" stroke-width="1.1"/><text x="1059.95" y="699.65" font-size="6" font-weight="bold" text-anchor="middle" fill="#000" stroke="#000" stroke-width="0.5" letter-spacing="0">*</text></g>
<g><text x="1276" y="682.5" font-size="14.3" text-anchor="middle" fill="#111" letter-spacing="-0.4" stroke="#111" stroke-width="0.3">IL2RG</text><text transform="translate(1175.25,765.62) rotate(-90)" font-size="8.5" text-anchor="middle" fill="#111" stroke="#111" stroke-width="0.25" textLength="156.25" lengthAdjust="spacingAndGlyphs">relative expression in PCOS endometrium tissue</text><text transform="translate(1184.55,765.75) rotate(-90)" font-size="8.5" text-anchor="middle" fill="#111" stroke="#111" stroke-width="0.25" textLength="72.5" lengthAdjust="spacingAndGlyphs">(normalized by β-actin)</text><path d="M1207.75,698.25V832H1345.5" fill="none" stroke="#1a1a1a" stroke-width="1.7" stroke-linecap="square"/><path d="M1203.75,698.75H1207.75" stroke="#111" stroke-width="1.7"/><text x="1202.45" y="701.94" font-size="10.3" text-anchor="end" fill="#000" stroke="#000" stroke-width="0.3" font-weight="normal">25</text><path d="M1203.75,725.4H1207.75" stroke="#111" stroke-width="1.7"/><text x="1202.45" y="728.59" font-size="10.3" text-anchor="end" fill="#000" stroke="#000" stroke-width="0.3" font-weight="normal">20</text><path d="M1203.75,752.05H1207.75" stroke="#111" stroke-width="1.7"/><text x="1202.45" y="755.24" font-size="10.3" text-anchor="end" fill="#000" stroke="#000" stroke-width="0.3" font-weight="normal">15</text><path d="M1203.75,778.7H1207.75" stroke="#111" stroke-width="1.7"/><text x="1202.45" y="781.89" font-size="10.3" text-anchor="end" fill="#000" stroke="#000" stroke-width="0.3" font-weight="normal">10</text><path d="M1203.75,805.35H1207.75" stroke="#111" stroke-width="1.7"/><text x="1202.45" y="808.54" font-size="10.3" text-anchor="end" fill="#000" stroke="#000" stroke-width="0.3" font-weight="normal">5</text><path d="M1203.75,832H1207.75" stroke="#111" stroke-width="1.7"/><text x="1202.45" y="835.19" font-size="10.3" text-anchor="end" fill="#000" stroke="#000" stroke-width="0.3" font-weight="normal">0</text><path d="M1242.25,832V836" stroke="#111" stroke-width="1.7"/><text x="1242.25" y="844.7" font-size="9.7" text-anchor="middle" fill="#000" stroke="#000" stroke-width="0.3" textLength="28" lengthAdjust="spacingAndGlyphs">control</text><path d="M1310.5,832V836" stroke="#111" stroke-width="1.7"/><text x="1310.5" y="844.7" font-size="9.7" text-anchor="middle" fill="#000" stroke="#000" stroke-width="0.3" textLength="84" lengthAdjust="spacingAndGlyphs">P-overweight/obese</text><path d="M1242.25,792.5V809.25M1242.25,825V826.75M1231.25,792.5H1253.25M1231.25,826.75H1253.25M1220.25,820.75H1264.25" fill="none" stroke="#1410ee" stroke-width="1.7"/><rect x="1220.25" y="809.25" width="44" height="15.75" fill="none" stroke="#1410ee" stroke-width="1.7"/><path d="M1310.38,723.75V753M1310.38,810.75V818M1299.31,723.75H1321.44M1299.31,818H1321.44M1288.25,805.5H1332.5" fill="none" stroke="#6cc234" stroke-width="1.7"/><rect x="1288.25" y="753" width="44.25" height="57.75" fill="none" stroke="#6cc234" stroke-width="1.7"/><path d="M1239,710H1311.75" stroke="#aaa" stroke-width="1.1"/><text x="1276.2" y="708.4" font-size="6" font-weight="bold" text-anchor="middle" fill="#000" stroke="#000" stroke-width="0.5" letter-spacing="0">*</text></g>
<g><text x="1483" y="683.75" font-size="14.3" text-anchor="middle" fill="#111" letter-spacing="-0.4" stroke="#111" stroke-width="0.3">IL5RA</text><text transform="translate(1383,767.75) rotate(-90)" font-size="8.5" text-anchor="middle" fill="#111" stroke="#111" stroke-width="0.25" textLength="159.5" lengthAdjust="spacingAndGlyphs">relative expression in PCOS endometrium tissue</text><text transform="translate(1392.3,767.25) rotate(-90)" font-size="8.5" text-anchor="middle" fill="#111" stroke="#111" stroke-width="0.25" textLength="74.5" lengthAdjust="spacingAndGlyphs">(normalized by β-actin)</text><path d="M1414.5,699.25V835.75H1552" fill="none" stroke="#1a1a1a" stroke-width="1.7" stroke-linecap="square"/><path d="M1410.5,699.5H1414.5" stroke="#111" stroke-width="1.7"/><text x="1409.2" y="702.69" font-size="10.3" text-anchor="end" fill="#000" stroke="#000" stroke-width="0.3" font-weight="normal">80</text><path d="M1410.5,728.19H1414.5" stroke="#111" stroke-width="1.7"/><text x="1409.2" y="731.38" font-size="10.3" text-anchor="end" fill="#000" stroke="#000" stroke-width="0.3" font-weight="normal">60</text><path d="M1410.5,756.88H1414.5" stroke="#111" stroke-width="1.7"/><text x="1409.2" y="760.07" font-size="10.3" text-anchor="end" fill="#000" stroke="#000" stroke-width="0.3" font-weight="normal">40</text><path d="M1410.5,785.56H1414.5" stroke="#111" stroke-width="1.7"/><text x="1409.2" y="788.76" font-size="10.3" text-anchor="end" fill="#000" stroke="#000" stroke-width="0.3" font-weight="normal">20</text><path d="M1410.5,814.25H1414.5" stroke="#111" stroke-width="1.7"/><text x="1409.2" y="817.44" font-size="10.3" text-anchor="end" fill="#000" stroke="#000" stroke-width="0.3" font-weight="normal">0</text><path d="M1448.75,835.75V839.75" stroke="#111" stroke-width="1.7"/><text x="1448.75" y="848.45" font-size="9.7" text-anchor="middle" fill="#000" stroke="#000" stroke-width="0.3">O-CON</text><path d="M1517.5,835.75V839.75" stroke="#111" stroke-width="1.7"/><text x="1517.5" y="848.45" font-size="9.7" text-anchor="middle" fill="#000" stroke="#000" stroke-width="0.3">O-PCOS</text><path d="M1448.75,801.75V809.25M1448.75,812V812.5M1437.5,801.75H1460M1437.5,812.5H1460M1426.25,810.75H1471.25" fill="none" stroke="#1410ee" stroke-width="1.7"/><rect x="1426.25" y="809.25" width="45" height="2.75" fill="none" stroke="#1410ee" stroke-width="1.7"/><path d="M1517.25,728V799M1517.25,810.75V813M1506.12,728H1528.38M1506.12,813H1528.38M1495,805.5H1539.5" fill="none" stroke="#6cc234" stroke-width="1.7"/><rect x="1495" y="799" width="44.5" height="11.75" fill="none" stroke="#6cc234" stroke-width="1.7"/></g>
<g><text x="1692.5" y="682" font-size="14.3" text-anchor="middle" fill="#111" letter-spacing="-0.4" stroke="#111" stroke-width="0.3">RELA</text><text transform="translate(1590.5,767.88) rotate(-90)" font-size="8.5" text-anchor="middle" fill="#111" stroke="#111" stroke-width="0.25" textLength="161.75" lengthAdjust="spacingAndGlyphs">relative expression in PCOS endometrium tissue</text><text transform="translate(1599.8,767.25) rotate(-90)" font-size="8.5" text-anchor="middle" fill="#111" stroke="#111" stroke-width="0.25" textLength="75.5" lengthAdjust="spacingAndGlyphs">(normalized by β-actin)</text><path d="M1624.25,698.25V836.75H1760.6" fill="none" stroke="#1a1a1a" stroke-width="1.7" stroke-linecap="square"/><path d="M1620.25,698.75H1624.25" stroke="#111" stroke-width="1.7"/><text x="1618.95" y="701.94" font-size="10.3" text-anchor="end" fill="#000" stroke="#000" stroke-width="0.3" font-weight="normal">6</text><path d="M1620.25,744.75H1624.25" stroke="#111" stroke-width="1.7"/><text x="1618.95" y="747.94" font-size="10.3" text-anchor="end" fill="#000" stroke="#000" stroke-width="0.3" font-weight="normal">4</text><path d="M1620.25,790.75H1624.25" stroke="#111" stroke-width="1.7"/><text x="1618.95" y="793.94" font-size="10.3" text-anchor="end" fill="#000" stroke="#000" stroke-width="0.3" font-weight="normal">2</text><path d="M1620.25,836.75H1624.25" stroke="#111" stroke-width="1.7"/><text x="1618.95" y="839.94" font-size="10.3" text-anchor="end" fill="#000" stroke="#000" stroke-width="0.3" font-weight="normal">0</text><path d="M1658.75,836.75V840.75" stroke="#111" stroke-width="1.7"/><text x="1658.75" y="849.2" font-size="9.7" text-anchor="middle" fill="#000" stroke="#000" stroke-width="0.3">O-CON</text><path d="M1726.6,836.75V840.75" stroke="#111" stroke-width="1.7"/><text x="1726.6" y="849.2" font-size="9.7" text-anchor="middle" fill="#000" stroke="#000" stroke-width="0.3">O-PCOS</text><path d="M1658.3,750.5V772.25M1658.3,805.5V813.25M1647.3,750.5H1669.3M1647.3,813.25H1669.3M1636.3,788.75H1680.3" fill="none" stroke="#1410ee" stroke-width="1.7"/><rect x="1636.3" y="772.25" width="44" height="33.25" fill="none" stroke="#1410ee" stroke-width="1.7"/><path d="M1726.6,701.9V769.5M1726.6,801.5V817.5M1715.65,701.9H1737.55M1715.65,817.5H1737.55M1704.7,775.8H1748.5" fill="none" stroke="#6cc234" stroke-width="1.7"/><rect x="1704.7" y="769.5" width="43.8" height="32" fill="none" stroke="#6cc234" stroke-width="1.7"/></g>
<g><text x="1060.5" y="894.25" font-size="14.3" text-anchor="middle" fill="#111" letter-spacing="-0.4" stroke="#111" stroke-width="0.3">IL<tspan dx="1.6">18</tspan></text><text transform="translate(959,978.5) rotate(-90)" font-size="8.5" text-anchor="middle" fill="#111" stroke="#111" stroke-width="0.25" textLength="159.5" lengthAdjust="spacingAndGlyphs">relative expression in PCOS endometrium tissue</text><text transform="translate(968.3,978.12) rotate(-90)" font-size="8.5" text-anchor="middle" fill="#111" stroke="#111" stroke-width="0.25" textLength="73.75" lengthAdjust="spacingAndGlyphs">(normalized by β-actin)</text><path d="M992.75,910V1046.25H1129.25" fill="none" stroke="#1a1a1a" stroke-width="1.7" stroke-linecap="square"/><path d="M988.75,910.5H992.75" stroke="#111" stroke-width="1.7"/><text x="987.45" y="913.69" font-size="10.3" text-anchor="end" fill="#000" stroke="#000" stroke-width="0.3" font-weight="normal">30</text><path d="M988.75,954.33H992.75" stroke="#111" stroke-width="1.7"/><text x="987.45" y="957.53" font-size="10.3" text-anchor="end" fill="#000" stroke="#000" stroke-width="0.3" font-weight="normal">20</text><path d="M988.75,998.17H992.75" stroke="#111" stroke-width="1.7"/><text x="987.45" y="1001.36" font-size="10.3" text-anchor="end" fill="#000" stroke="#000" stroke-width="0.3" font-weight="normal">10</text><path d="M988.75,1042H992.75" stroke="#111" stroke-width="1.7"/><text x="987.45" y="1045.19" font-size="10.3" text-anchor="end" fill="#000" stroke="#000" stroke-width="0.3" font-weight="normal">0</text><path d="M1026.75,1046.25V1050.25" stroke="#111" stroke-width="1.7"/><text x="1026.75" y="1059.2" font-size="9.7" text-anchor="middle" fill="#000" stroke="#000" stroke-width="0.3">O-CON</text><path d="M1094.75,1046.25V1050.25" stroke="#111" stroke-width="1.7"/><text x="1094.75" y="1059.2" font-size="9.7" text-anchor="middle" fill="#000" stroke="#000" stroke-width="0.3">O-PCOS</text><path d="M1026.88,1008.75V1023M1026.88,1037V1039.5M1015.81,1008.75H1037.94M1015.81,1039.5H1037.94M1004.75,1032H1049" fill="none" stroke="#1410ee" stroke-width="1.7"/><rect x="1004.75" y="1023" width="44.25" height="14" fill="none" stroke="#1410ee" stroke-width="1.7"/><path d="M1094.75,942.5V1008M1094.75,1035.5V1038.75M1083.75,942.5H1105.75M1083.75,1038.75H1105.75M1072.75,1023.25H1116.75" fill="none" stroke="#6cc234" stroke-width="1.7"/><rect x="1072.75" y="1008" width="44" height="27.5" fill="none" stroke="#6cc234" stroke-width="1.7"/></g>
<g><text x="1276.5" y="897.5" font-size="14.3" text-anchor="middle" fill="#111" letter-spacing="-0.4" stroke="#111" stroke-width="0.3">IL6</text><text transform="translate(1175.25,980.38) rotate(-90)" font-size="8.5" text-anchor="middle" fill="#111" stroke="#111" stroke-width="0.25" textLength="156.75" lengthAdjust="spacingAndGlyphs">relative expression in PCOS endometrium tissue</text><text transform="translate(1184.55,980.38) rotate(-90)" font-size="8.5" text-anchor="middle" fill="#111" stroke="#111" stroke-width="0.25" textLength="73.25" lengthAdjust="spacingAndGlyphs">(normalized by β-actin)</text><path d="M1208.5,913V1046.75H1345.5" fill="none" stroke="#1a1a1a" stroke-width="1.7" stroke-linecap="square"/><path d="M1204.5,913.25H1208.5" stroke="#111" stroke-width="1.7"/><text x="1203.2" y="916.44" font-size="10.3" text-anchor="end" fill="#000" stroke="#000" stroke-width="0.3" font-weight="normal">25</text><path d="M1204.5,939.95H1208.5" stroke="#111" stroke-width="1.7"/><text x="1203.2" y="943.14" font-size="10.3" text-anchor="end" fill="#000" stroke="#000" stroke-width="0.3" font-weight="normal">20</text><path d="M1204.5,966.65H1208.5" stroke="#111" stroke-width="1.7"/><text x="1203.2" y="969.84" font-size="10.3" text-anchor="end" fill="#000" stroke="#000" stroke-width="0.3" font-weight="normal">15</text><path d="M1204.5,993.35H1208.5" stroke="#111" stroke-width="1.7"/><text x="1203.2" y="996.54" font-size="10.3" text-anchor="end" fill="#000" stroke="#000" stroke-width="0.3" font-weight="normal">10</text><path d="M1204.5,1020.05H1208.5" stroke="#111" stroke-width="1.7"/><text x="1203.2" y="1023.24" font-size="10.3" text-anchor="end" fill="#000" stroke="#000" stroke-width="0.3" font-weight="normal">5</text><path d="M1204.5,1046.75H1208.5" stroke="#111" stroke-width="1.7"/><text x="1203.2" y="1049.94" font-size="10.3" text-anchor="end" fill="#000" stroke="#000" stroke-width="0.3" font-weight="normal">0</text><path d="M1242.75,1046.75V1050.75" stroke="#111" stroke-width="1.7"/><text x="1242.75" y="1059.7" font-size="9.7" text-anchor="middle" fill="#000" stroke="#000" stroke-width="0.3">O-CON</text><path d="M1310.75,1046.75V1050.75" stroke="#111" stroke-width="1.7"/><text x="1310.75" y="1059.7" font-size="9.7" text-anchor="middle" fill="#000" stroke="#000" stroke-width="0.3">O-PCOS</text><path d="M1242.5,1031.5V1035.75M1242.5,1040V1041.75M1231.38,1031.5H1253.62M1231.38,1041.75H1253.62M1220.25,1037.5H1264.75" fill="none" stroke="#1410ee" stroke-width="1.7"/><rect x="1220.25" y="1035.75" width="44.5" height="4.25" fill="none" stroke="#1410ee" stroke-width="1.7"/><path d="M1310.88,940V975.5M1310.88,1033.75V1036.75M1299.81,940H1321.94M1299.81,1036.75H1321.94M1288.75,1013.75H1333" fill="none" stroke="#6cc234" stroke-width="1.7"/><rect x="1288.75" y="975.5" width="44.25" height="58.25" fill="none" stroke="#6cc234" stroke-width="1.7"/><path d="M1242.25,925.5H1309.25" stroke="#aaa" stroke-width="1.1"/><text x="1275.45" y="924.15" font-size="6" font-weight="bold" text-anchor="middle" fill="#000" stroke="#000" stroke-width="0.5" letter-spacing="0">*</text></g>
<g><text x="1484.5" y="894.25" font-size="14.3" text-anchor="middle" fill="#111" letter-spacing="-0.4" stroke="#111" stroke-width="0.3">IL6R</text><text transform="translate(1382.5,978.5) rotate(-90)" font-size="8.5" text-anchor="middle" fill="#111" stroke="#111" stroke-width="0.25" textLength="159.5" lengthAdjust="spacingAndGlyphs">relative expression in PCOS endometrium tissue</text><text transform="translate(1391.8,978.38) rotate(-90)" font-size="8.5" text-anchor="middle" fill="#111" stroke="#111" stroke-width="0.25" textLength="74.25" lengthAdjust="spacingAndGlyphs">(normalized by β-actin)</text><path d="M1416.25,910V1046.25H1552.5" fill="none" stroke="#1a1a1a" stroke-width="1.7" stroke-linecap="square"/><path d="M1412.25,910.5H1416.25" stroke="#111" stroke-width="1.7"/><text x="1410.95" y="913.69" font-size="10.3" text-anchor="end" fill="#000" stroke="#000" stroke-width="0.3" font-weight="normal">40</text><path d="M1412.25,944.44H1416.25" stroke="#111" stroke-width="1.7"/><text x="1410.95" y="947.63" font-size="10.3" text-anchor="end" fill="#000" stroke="#000" stroke-width="0.3" font-weight="normal">30</text><path d="M1412.25,978.38H1416.25" stroke="#111" stroke-width="1.7"/><text x="1410.95" y="981.57" font-size="10.3" text-anchor="end" fill="#000" stroke="#000" stroke-width="0.3" font-weight="normal">20</text><path d="M1412.25,1012.31H1416.25" stroke="#111" stroke-width="1.7"/><text x="1410.95" y="1015.51" font-size="10.3" text-anchor="end" fill="#000" stroke="#000" stroke-width="0.3" font-weight="normal">10</text><path d="M1412.25,1046.25H1416.25" stroke="#111" stroke-width="1.7"/><text x="1410.95" y="1049.44" font-size="10.3" text-anchor="end" fill="#000" stroke="#000" stroke-width="0.3" font-weight="normal">0</text><path d="M1450.75,1046.25V1050.25" stroke="#111" stroke-width="1.7"/><text x="1450.75" y="1059.2" font-size="9.7" text-anchor="middle" fill="#000" stroke="#000" stroke-width="0.3">O-CON</text><path d="M1518.75,1046.25V1050.25" stroke="#111" stroke-width="1.7"/><text x="1518.75" y="1059.2" font-size="9.7" text-anchor="middle" fill="#000" stroke="#000" stroke-width="0.3">O-PCOS</text><path d="M1450.38,1013V1017M1450.38,1038.25V1041.75M1439.31,1013H1461.44M1439.31,1041.75H1461.44M1428.25,1024.5H1472.5" fill="none" stroke="#1410ee" stroke-width="1.7"/><rect x="1428.25" y="1017" width="44.25" height="21.25" fill="none" stroke="#1410ee" stroke-width="1.7"/><path d="M1518.75,935V988.25M1518.75,1031.25V1032.5M1507.75,935H1529.75M1507.75,1032.5H1529.75M1496.75,1015.5H1540.75" fill="none" stroke="#6cc234" stroke-width="1.7"/><rect x="1496.75" y="988.25" width="44" height="43" fill="none" stroke="#6cc234" stroke-width="1.7"/><path d="M1447,921.75H1520" stroke="#aaa" stroke-width="1.1"/><text x="1484.7" y="920.4" font-size="6" font-weight="bold" text-anchor="middle" fill="#000" stroke="#000" stroke-width="0.5" letter-spacing="0">*</text></g>
<g><text x="1692" y="897" font-size="14.3" text-anchor="middle" fill="#111" letter-spacing="-0.4" stroke="#111" stroke-width="0.3">IL<tspan dx="1.6">15</tspan></text><text transform="translate(1590.5,978.75) rotate(-90)" font-size="8.5" text-anchor="middle" fill="#111" stroke="#111" stroke-width="0.25" textLength="155" lengthAdjust="spacingAndGlyphs">relative expression in PCOS endometrium tissue</text><text transform="translate(1599.8,979.38) rotate(-90)" font-size="8.5" text-anchor="middle" fill="#111" stroke="#111" stroke-width="0.25" textLength="71.25" lengthAdjust="spacingAndGlyphs">(normalized by β-actin)</text><path d="M1624.25,912.5V1044.5H1760.6" fill="none" stroke="#1a1a1a" stroke-width="1.7" stroke-linecap="square"/><path d="M1620.25,913H1624.25" stroke="#111" stroke-width="1.7"/><text x="1618.95" y="916.19" font-size="10.3" text-anchor="end" fill="#000" stroke="#000" stroke-width="0.3" font-weight="normal">5</text><path d="M1620.25,939.3H1624.25" stroke="#111" stroke-width="1.7"/><text x="1618.95" y="942.49" font-size="10.3" text-anchor="end" fill="#000" stroke="#000" stroke-width="0.3" font-weight="normal">4</text><path d="M1620.25,965.6H1624.25" stroke="#111" stroke-width="1.7"/><text x="1618.95" y="968.79" font-size="10.3" text-anchor="end" fill="#000" stroke="#000" stroke-width="0.3" font-weight="normal">3</text><path d="M1620.25,991.9H1624.25" stroke="#111" stroke-width="1.7"/><text x="1618.95" y="995.09" font-size="10.3" text-anchor="end" fill="#000" stroke="#000" stroke-width="0.3" font-weight="normal">2</text><path d="M1620.25,1018.2H1624.25" stroke="#111" stroke-width="1.7"/><text x="1618.95" y="1021.39" font-size="10.3" text-anchor="end" fill="#000" stroke="#000" stroke-width="0.3" font-weight="normal">1</text><path d="M1620.25,1044.5H1624.25" stroke="#111" stroke-width="1.7"/><text x="1618.95" y="1047.69" font-size="10.3" text-anchor="end" fill="#000" stroke="#000" stroke-width="0.3" font-weight="normal">0</text><path d="M1658.25,1044.5V1048.5" stroke="#111" stroke-width="1.7"/><text x="1658.25" y="1056.7" font-size="9.7" text-anchor="middle" fill="#000" stroke="#000" stroke-width="0.3">O-CON</text><path d="M1726.3,1044.5V1048.5" stroke="#111" stroke-width="1.7"/><text x="1726.3" y="1056.7" font-size="9.7" text-anchor="middle" fill="#000" stroke="#000" stroke-width="0.3">O-PCOS</text><path d="M1657.88,998.75V1004.5M1657.88,1026.25V1035.5M1646.81,998.75H1668.94M1646.81,1035.5H1668.94M1635.75,1017.5H1680" fill="none" stroke="#1410ee" stroke-width="1.7"/><rect x="1635.75" y="1004.5" width="44.25" height="21.75" fill="none" stroke="#1410ee" stroke-width="1.7"/><path d="M1726.2,934.6V950.6M1726.2,1010.2V1035.5M1715.05,934.6H1737.35M1715.05,1035.5H1737.35M1703.9,998.7H1748.5" fill="none" stroke="#6cc234" stroke-width="1.7"/><rect x="1703.9" y="950.6" width="44.6" height="59.6" fill="none" stroke="#6cc234" stroke-width="1.7"/><path d="M1656.3,923.9H1728.2" stroke="#aaa" stroke-width="1.1"/><text x="1691.45" y="922.15" font-size="6" font-weight="bold" text-anchor="middle" fill="#000" stroke="#000" stroke-width="0.5" letter-spacing="0">*</text></g>
<g><text x="154.25" y="1142" font-size="14.3" text-anchor="middle" fill="#111" letter-spacing="-0.4" stroke="#111" stroke-width="0.3">FASN</text><text transform="translate(53,1227.5) rotate(-90)" font-size="8.5" text-anchor="middle" fill="#111" stroke="#111" stroke-width="0.25" textLength="161" lengthAdjust="spacingAndGlyphs">relative expression in PCOS endometrium tissue</text><text transform="translate(62.3,1227.5) rotate(-90)" font-size="8.5" text-anchor="middle" fill="#111" stroke="#111" stroke-width="0.25" textLength="75" lengthAdjust="spacingAndGlyphs">(normalized by β-actin)</text><path d="M86.25,1158V1296.75H222" fill="none" stroke="#1a1a1a" stroke-width="1.7" stroke-linecap="square"/><path d="M82.25,1158.25H86.25" stroke="#111" stroke-width="1.7"/><text x="80.95" y="1161.44" font-size="10.3" text-anchor="end" fill="#000" stroke="#000" stroke-width="0.3" font-weight="normal">2.0</text><path d="M82.25,1192.88H86.25" stroke="#111" stroke-width="1.7"/><text x="80.95" y="1196.07" font-size="10.3" text-anchor="end" fill="#000" stroke="#000" stroke-width="0.3" font-weight="normal">1.5</text><path d="M82.25,1227.5H86.25" stroke="#111" stroke-width="1.7"/><text x="80.95" y="1230.69" font-size="10.3" text-anchor="end" fill="#000" stroke="#000" stroke-width="0.3" font-weight="normal">1.0</text><path d="M82.25,1262.12H86.25" stroke="#111" stroke-width="1.7"/><text x="80.95" y="1265.32" font-size="10.3" text-anchor="end" fill="#000" stroke="#000" stroke-width="0.3" font-weight="normal">0.5</text><path d="M82.25,1296.75H86.25" stroke="#111" stroke-width="1.7"/><text x="80.95" y="1299.94" font-size="10.3" text-anchor="end" fill="#000" stroke="#000" stroke-width="0.3" font-weight="normal">0.0</text><path d="M120.75,1296.75V1300.75" stroke="#111" stroke-width="1.7"/><text x="120.75" y="1309.7" font-size="9.7" text-anchor="middle" fill="#000" stroke="#000" stroke-width="0.3">N-CON</text><path d="M188,1296.75V1300.75" stroke="#111" stroke-width="1.7"/><text x="188" y="1309.7" font-size="9.7" text-anchor="middle" fill="#000" stroke="#000" stroke-width="0.3">N-PCOS</text><path d="M120.62,1227.5V1254.25M120.62,1286.75V1289.25M109.69,1227.5H131.56M109.69,1289.25H131.56M98.75,1263.75H142.5" fill="none" stroke="#1410ee" stroke-width="1.7"/><rect x="98.75" y="1254.25" width="43.75" height="32.5" fill="none" stroke="#1410ee" stroke-width="1.7"/><path d="M187.62,1223.5V1230.75M187.62,1272.5V1288M176.69,1223.5H198.56M176.69,1288H198.56M165.75,1262H209.5" fill="none" stroke="#d42020" stroke-width="1.7"/><rect x="165.75" y="1230.75" width="43.75" height="41.75" fill="none" stroke="#d42020" stroke-width="1.7"/></g>
<g><text x="366.75" y="1136.75" font-size="14.3" text-anchor="middle" fill="#111" letter-spacing="-0.4" stroke="#111" stroke-width="0.3">ANG</text><text transform="translate(272.5,1221.88) rotate(-90)" font-size="8.5" text-anchor="middle" fill="#111" stroke="#111" stroke-width="0.25" textLength="158.75" lengthAdjust="spacingAndGlyphs">relative expression in PCOS endometrium tissue</text><text transform="translate(281.8,1221.88) rotate(-90)" font-size="8.5" text-anchor="middle" fill="#111" stroke="#111" stroke-width="0.25" textLength="73.75" lengthAdjust="spacingAndGlyphs">(normalized by β-actin)</text><path d="M298,1151.25V1291.75H435.5" fill="none" stroke="#1a1a1a" stroke-width="1.7" stroke-linecap="square"/><path d="M294,1152H298" stroke="#111" stroke-width="1.7"/><text x="292.7" y="1155.19" font-size="10.3" text-anchor="end" fill="#000" stroke="#000" stroke-width="0.3" font-weight="normal">6</text><path d="M294,1197.17H298" stroke="#111" stroke-width="1.7"/><text x="292.7" y="1200.36" font-size="10.3" text-anchor="end" fill="#000" stroke="#000" stroke-width="0.3" font-weight="normal">4</text><path d="M294,1242.33H298" stroke="#111" stroke-width="1.7"/><text x="292.7" y="1245.53" font-size="10.3" text-anchor="end" fill="#000" stroke="#000" stroke-width="0.3" font-weight="normal">2</text><path d="M294,1287.5H298" stroke="#111" stroke-width="1.7"/><text x="292.7" y="1290.69" font-size="10.3" text-anchor="end" fill="#000" stroke="#000" stroke-width="0.3" font-weight="normal">0</text><path d="M332.5,1291.75V1295.75" stroke="#111" stroke-width="1.7"/><text x="332.5" y="1304.7" font-size="9.7" text-anchor="middle" fill="#000" stroke="#000" stroke-width="0.3">N-CON</text><path d="M401.25,1291.75V1295.75" stroke="#111" stroke-width="1.7"/><text x="401.25" y="1304.7" font-size="9.7" text-anchor="middle" fill="#000" stroke="#000" stroke-width="0.3">N-PCOS</text><path d="M332.25,1197V1215.5M332.25,1277.5V1285M321.12,1197H343.38M321.12,1285H343.38M310,1270.5H354.5" fill="none" stroke="#1410ee" stroke-width="1.7"/><rect x="310" y="1215.5" width="44.5" height="62" fill="none" stroke="#1410ee" stroke-width="1.7"/><path d="M400.88,1256.25V1277.5M400.88,1286.25V1287.5M389.81,1256.25H411.94M389.81,1287.5H411.94M378.75,1285H423" fill="none" stroke="#d42020" stroke-width="1.7"/><rect x="378.75" y="1277.5" width="44.25" height="8.75" fill="none" stroke="#d42020" stroke-width="1.7"/><path d="M331.25,1172.25H400.75" stroke="#aaa" stroke-width="1.1"/><text x="368.05" y="1171.15" font-size="6" font-weight="bold" text-anchor="middle" fill="#000" stroke="#000" stroke-width="0.5" letter-spacing="1.7">**</text></g>
<g><text x="573.5" y="1142.5" font-size="14.3" text-anchor="middle" fill="#111" letter-spacing="-0.4" stroke="#111" stroke-width="0.3">EGF</text><text transform="translate(474.25,1227.25) rotate(-90)" font-size="8.5" text-anchor="middle" fill="#111" stroke="#111" stroke-width="0.25" textLength="159.5" lengthAdjust="spacingAndGlyphs">relative expression in PCOS endometrium tissue</text><text transform="translate(483.55,1227.5) rotate(-90)" font-size="8.5" text-anchor="middle" fill="#111" stroke="#111" stroke-width="0.25" textLength="75" lengthAdjust="spacingAndGlyphs">(normalized by β-actin)</text><path d="M507.25,1158.25V1296.25H641" fill="none" stroke="#1a1a1a" stroke-width="1.7" stroke-linecap="square"/><path d="M503.25,1158.75H507.25" stroke="#111" stroke-width="1.7"/><text x="501.95" y="1161.94" font-size="10.3" text-anchor="end" fill="#000" stroke="#000" stroke-width="0.3" font-weight="normal">4</text><path d="M503.25,1193.12H507.25" stroke="#111" stroke-width="1.7"/><text x="501.95" y="1196.32" font-size="10.3" text-anchor="end" fill="#000" stroke="#000" stroke-width="0.3" font-weight="normal">3</text><path d="M503.25,1227.5H507.25" stroke="#111" stroke-width="1.7"/><text x="501.95" y="1230.69" font-size="10.3" text-anchor="end" fill="#000" stroke="#000" stroke-width="0.3" font-weight="normal">2</text><path d="M503.25,1261.88H507.25" stroke="#111" stroke-width="1.7"/><text x="501.95" y="1265.07" font-size="10.3" text-anchor="end" fill="#000" stroke="#000" stroke-width="0.3" font-weight="normal">1</text><path d="M503.25,1296.25H507.25" stroke="#111" stroke-width="1.7"/><text x="501.95" y="1299.44" font-size="10.3" text-anchor="end" fill="#000" stroke="#000" stroke-width="0.3" font-weight="normal">0</text><path d="M540,1296.25V1300.25" stroke="#111" stroke-width="1.7"/><text x="540" y="1309.2" font-size="9.7" text-anchor="middle" fill="#000" stroke="#000" stroke-width="0.3">N-CON</text><path d="M606.75,1296.25V1300.25" stroke="#111" stroke-width="1.7"/><text x="606.75" y="1309.2" font-size="9.7" text-anchor="middle" fill="#000" stroke="#000" stroke-width="0.3">N-PCOS</text><path d="M540.25,1228.75V1232.5M540.25,1280.5V1282.5M529.5,1228.75H551M529.5,1282.5H551M518.75,1255H561.75" fill="none" stroke="#1410ee" stroke-width="1.7"/><rect x="518.75" y="1232.5" width="43" height="48" fill="none" stroke="#1410ee" stroke-width="1.7"/><path d="M607.12,1258.75V1266.25M607.12,1282V1284.5M596.31,1258.75H617.94M596.31,1284.5H617.94M585.5,1276.25H628.75" fill="none" stroke="#d42020" stroke-width="1.7"/><rect x="585.5" y="1266.25" width="43.25" height="15.75" fill="none" stroke="#d42020" stroke-width="1.7"/><path d="M539.25,1186H612.5" stroke="#aaa" stroke-width="1.1"/><text x="574.45" y="1184.15" font-size="6" font-weight="bold" text-anchor="middle" fill="#000" stroke="#000" stroke-width="0.5" letter-spacing="0">*</text></g>
<g><text x="806.75" y="1145" font-size="14.3" text-anchor="middle" fill="#111" letter-spacing="-0.4" stroke="#111" stroke-width="0.3">PPARγ</text><text transform="translate(707.5,1227.25) rotate(-90)" font-size="8.5" text-anchor="middle" fill="#111" stroke="#111" stroke-width="0.25" textLength="155.5" lengthAdjust="spacingAndGlyphs">relative expression in PCOS endometrium tissue</text><text transform="translate(716.8,1227.5) rotate(-90)" font-size="8.5" text-anchor="middle" fill="#111" stroke="#111" stroke-width="0.25" textLength="72.5" lengthAdjust="spacingAndGlyphs">(normalized by β-actin)</text><path d="M739.25,1160.5V1293.75H874.75" fill="none" stroke="#1a1a1a" stroke-width="1.7" stroke-linecap="square"/><path d="M735.25,1160.75H739.25" stroke="#111" stroke-width="1.7"/><text x="733.95" y="1163.94" font-size="10.3" text-anchor="end" fill="#000" stroke="#000" stroke-width="0.3" font-weight="normal">4</text><path d="M735.25,1194H739.25" stroke="#111" stroke-width="1.7"/><text x="733.95" y="1197.19" font-size="10.3" text-anchor="end" fill="#000" stroke="#000" stroke-width="0.3" font-weight="normal">3</text><path d="M735.25,1227.25H739.25" stroke="#111" stroke-width="1.7"/><text x="733.95" y="1230.44" font-size="10.3" text-anchor="end" fill="#000" stroke="#000" stroke-width="0.3" font-weight="normal">2</text><path d="M735.25,1260.5H739.25" stroke="#111" stroke-width="1.7"/><text x="733.95" y="1263.69" font-size="10.3" text-anchor="end" fill="#000" stroke="#000" stroke-width="0.3" font-weight="normal">1</text><path d="M735.25,1293.75H739.25" stroke="#111" stroke-width="1.7"/><text x="733.95" y="1296.94" font-size="10.3" text-anchor="end" fill="#000" stroke="#000" stroke-width="0.3" font-weight="normal">0</text><path d="M773.5,1293.75V1297.75" stroke="#111" stroke-width="1.7"/><text x="773.5" y="1306.2" font-size="9.7" text-anchor="middle" fill="#000" stroke="#000" stroke-width="0.3">N-CON</text><path d="M840.5,1293.75V1297.75" stroke="#111" stroke-width="1.7"/><text x="840.5" y="1306.2" font-size="9.7" text-anchor="middle" fill="#000" stroke="#000" stroke-width="0.3">N-PCOS</text><path d="M773.62,1216.75V1225.5M773.62,1279.5V1289.5M762.69,1216.75H784.56M762.69,1289.5H784.56M751.75,1227H795.5" fill="none" stroke="#1410ee" stroke-width="1.7"/><rect x="751.75" y="1225.5" width="43.75" height="54" fill="none" stroke="#1410ee" stroke-width="1.7"/><path d="M840.5,1256V1259.5M840.5,1269.25V1280M829.5,1256H851.5M829.5,1280H851.5M818.5,1260.5H862.5" fill="none" stroke="#d42020" stroke-width="1.7"/><rect x="818.5" y="1259.5" width="44" height="9.75" fill="none" stroke="#d42020" stroke-width="1.7"/><path d="M773,1193.75H843.5" stroke="#aaa" stroke-width="1.1"/><text x="806.95" y="1191.65" font-size="6" font-weight="bold" text-anchor="middle" fill="#000" stroke="#000" stroke-width="0.5" letter-spacing="0">*</text></g>
<g><text x="1060.5" y="1140" font-size="14.3" text-anchor="middle" fill="#111" letter-spacing="-0.4" stroke="#111" stroke-width="0.3">FASN</text><text transform="translate(959,1221.88) rotate(-90)" font-size="8.5" text-anchor="middle" fill="#111" stroke="#111" stroke-width="0.25" textLength="155.25" lengthAdjust="spacingAndGlyphs">relative expression in PCOS endometrium tissue</text><text transform="translate(968.3,1222.12) rotate(-90)" font-size="8.5" text-anchor="middle" fill="#111" stroke="#111" stroke-width="0.25" textLength="71.75" lengthAdjust="spacingAndGlyphs">(normalized by β-actin)</text><path d="M993,1155V1288.75H1128" fill="none" stroke="#1a1a1a" stroke-width="1.7" stroke-linecap="square"/><path d="M989,1155.5H993" stroke="#111" stroke-width="1.7"/><text x="987.7" y="1158.69" font-size="10.3" text-anchor="end" fill="#000" stroke="#000" stroke-width="0.3" font-weight="normal">20</text><path d="M989,1188.81H993" stroke="#111" stroke-width="1.7"/><text x="987.7" y="1192.01" font-size="10.3" text-anchor="end" fill="#000" stroke="#000" stroke-width="0.3" font-weight="normal">15</text><path d="M989,1222.12H993" stroke="#111" stroke-width="1.7"/><text x="987.7" y="1225.32" font-size="10.3" text-anchor="end" fill="#000" stroke="#000" stroke-width="0.3" font-weight="normal">10</text><path d="M989,1255.44H993" stroke="#111" stroke-width="1.7"/><text x="987.7" y="1258.63" font-size="10.3" text-anchor="end" fill="#000" stroke="#000" stroke-width="0.3" font-weight="normal">5</text><path d="M989,1288.75H993" stroke="#111" stroke-width="1.7"/><text x="987.7" y="1291.94" font-size="10.3" text-anchor="end" fill="#000" stroke="#000" stroke-width="0.3" font-weight="normal">0</text><path d="M1026.75,1288.75V1292.75" stroke="#111" stroke-width="1.7"/><text x="1026.75" y="1301.7" font-size="9.7" text-anchor="middle" fill="#000" stroke="#000" stroke-width="0.3">O-CON</text><path d="M1094,1288.75V1292.75" stroke="#111" stroke-width="1.7"/><text x="1094" y="1301.7" font-size="9.7" text-anchor="middle" fill="#000" stroke="#000" stroke-width="0.3">O-PCOS</text><path d="M1027.12,1274.75V1278.75M1027.12,1284V1285M1016.19,1274.75H1038.06M1016.19,1285H1038.06M1005.25,1281.75H1049" fill="none" stroke="#1410ee" stroke-width="1.7"/><rect x="1005.25" y="1278.75" width="43.75" height="5.25" fill="none" stroke="#1410ee" stroke-width="1.7"/><path d="M1094.38,1185.75V1194.5M1094.38,1266.75V1267.5M1083.56,1185.75H1105.19M1083.56,1267.5H1105.19M1072.75,1245.5H1116" fill="none" stroke="#6cc234" stroke-width="1.7"/><rect x="1072.75" y="1194.5" width="43.25" height="72.25" fill="none" stroke="#6cc234" stroke-width="1.7"/><path d="M1021,1168.75H1094" stroke="#aaa" stroke-width="1.1"/><text x="1058.55" y="1167.15" font-size="6" font-weight="bold" text-anchor="middle" fill="#000" stroke="#000" stroke-width="0.5" letter-spacing="1.7">**</text></g>
<g><text x="1260.5" y="1136.25" font-size="14.3" text-anchor="middle" fill="#111" letter-spacing="-0.4" stroke="#111" stroke-width="0.3">ANG</text><text transform="translate(1166.75,1219.38) rotate(-90)" font-size="8.5" text-anchor="middle" fill="#111" stroke="#111" stroke-width="0.25" textLength="156.25" lengthAdjust="spacingAndGlyphs">relative expression in PCOS endometrium tissue</text><text transform="translate(1176.05,1219.25) rotate(-90)" font-size="8.5" text-anchor="middle" fill="#111" stroke="#111" stroke-width="0.25" textLength="72.5" lengthAdjust="spacingAndGlyphs">(normalized by β-actin)</text><path d="M1193,1151.25V1286.75H1328.5" fill="none" stroke="#1a1a1a" stroke-width="1.7" stroke-linecap="square"/><path d="M1189,1152H1193" stroke="#111" stroke-width="1.7"/><text x="1187.7" y="1155.19" font-size="10.3" text-anchor="end" fill="#000" stroke="#000" stroke-width="0.3" font-weight="normal">6</text><path d="M1189,1193.42H1193" stroke="#111" stroke-width="1.7"/><text x="1187.7" y="1196.61" font-size="10.3" text-anchor="end" fill="#000" stroke="#000" stroke-width="0.3" font-weight="normal">4</text><path d="M1189,1234.83H1193" stroke="#111" stroke-width="1.7"/><text x="1187.7" y="1238.03" font-size="10.3" text-anchor="end" fill="#000" stroke="#000" stroke-width="0.3" font-weight="normal">2</text><path d="M1189,1276.25H1193" stroke="#111" stroke-width="1.7"/><text x="1187.7" y="1279.44" font-size="10.3" text-anchor="end" fill="#000" stroke="#000" stroke-width="0.3" font-weight="normal">0</text><path d="M1226.75,1286.75V1290.75" stroke="#111" stroke-width="1.7"/><text x="1226.75" y="1299.7" font-size="9.7" text-anchor="middle" fill="#000" stroke="#000" stroke-width="0.3">O-CON</text><path d="M1294.25,1286.75V1290.75" stroke="#111" stroke-width="1.7"/><text x="1294.25" y="1299.7" font-size="9.7" text-anchor="middle" fill="#000" stroke="#000" stroke-width="0.3">O-PCOS</text><path d="M1227.12,1164.25V1168.25M1227.12,1245V1255.75M1216.19,1164.25H1238.06M1216.19,1255.75H1238.06M1205.25,1233H1249" fill="none" stroke="#1410ee" stroke-width="1.7"/><rect x="1205.25" y="1168.25" width="43.75" height="76.75" fill="none" stroke="#1410ee" stroke-width="1.7"/><path d="M1294.38,1208.25V1221.75M1294.38,1275V1275.75M1283.56,1208.25H1305.19M1283.56,1275.75H1305.19M1272.75,1273H1316" fill="none" stroke="#6cc234" stroke-width="1.7"/><rect x="1272.75" y="1221.75" width="43.25" height="53.25" fill="none" stroke="#6cc234" stroke-width="1.7"/></g>
<g><text x="1479.75" y="1136.75" font-size="14.3" text-anchor="middle" fill="#111" letter-spacing="-0.4" stroke="#111" stroke-width="0.3">EGF</text><text transform="translate(1379,1219.62) rotate(-90)" font-size="8.5" text-anchor="middle" fill="#111" stroke="#111" stroke-width="0.25" textLength="156.75" lengthAdjust="spacingAndGlyphs">relative expression in PCOS endometrium tissue</text><text transform="translate(1388.3,1219.38) rotate(-90)" font-size="8.5" text-anchor="middle" fill="#111" stroke="#111" stroke-width="0.25" textLength="72.75" lengthAdjust="spacingAndGlyphs">(normalized by β-actin)</text><path d="M1413.25,1151.75V1286.75H1547.75" fill="none" stroke="#1a1a1a" stroke-width="1.7" stroke-linecap="square"/><path d="M1409.25,1152.25H1413.25" stroke="#111" stroke-width="1.7"/><text x="1407.95" y="1155.44" font-size="10.3" text-anchor="end" fill="#000" stroke="#000" stroke-width="0.3" font-weight="normal">10</text><path d="M1409.25,1179.15H1413.25" stroke="#111" stroke-width="1.7"/><text x="1407.95" y="1182.34" font-size="10.3" text-anchor="end" fill="#000" stroke="#000" stroke-width="0.3" font-weight="normal">8</text><path d="M1409.25,1206.05H1413.25" stroke="#111" stroke-width="1.7"/><text x="1407.95" y="1209.24" font-size="10.3" text-anchor="end" fill="#000" stroke="#000" stroke-width="0.3" font-weight="normal">6</text><path d="M1409.25,1232.95H1413.25" stroke="#111" stroke-width="1.7"/><text x="1407.95" y="1236.14" font-size="10.3" text-anchor="end" fill="#000" stroke="#000" stroke-width="0.3" font-weight="normal">4</text><path d="M1409.25,1259.85H1413.25" stroke="#111" stroke-width="1.7"/><text x="1407.95" y="1263.04" font-size="10.3" text-anchor="end" fill="#000" stroke="#000" stroke-width="0.3" font-weight="normal">2</text><path d="M1409.25,1286.75H1413.25" stroke="#111" stroke-width="1.7"/><text x="1407.95" y="1289.94" font-size="10.3" text-anchor="end" fill="#000" stroke="#000" stroke-width="0.3" font-weight="normal">0</text><path d="M1446.5,1286.75V1290.75" stroke="#111" stroke-width="1.7"/><text x="1446.5" y="1299.7" font-size="9.7" text-anchor="middle" fill="#000" stroke="#000" stroke-width="0.3">O-CON</text><path d="M1514,1286.75V1290.75" stroke="#111" stroke-width="1.7"/><text x="1514" y="1299.7" font-size="9.7" text-anchor="middle" fill="#000" stroke="#000" stroke-width="0.3">O-PCOS</text><path d="M1446.5,1186.25V1211.75M1446.5,1273.75V1278.75M1435.62,1186.25H1457.38M1435.62,1278.75H1457.38M1424.75,1236.25H1468.25" fill="none" stroke="#1410ee" stroke-width="1.7"/><rect x="1424.75" y="1211.75" width="43.5" height="62" fill="none" stroke="#1410ee" stroke-width="1.7"/><path d="M1513.62,1270.5V1275.25M1513.62,1283V1284.25M1502.81,1270.5H1524.44M1502.81,1284.25H1524.44M1492,1280H1535.25" fill="none" stroke="#6cc234" stroke-width="1.7"/><rect x="1492" y="1275.25" width="43.25" height="7.75" fill="none" stroke="#6cc234" stroke-width="1.7"/></g>
<g><text x="1697.25" y="1136.75" font-size="14.3" text-anchor="middle" fill="#111" letter-spacing="-0.4" stroke="#111" stroke-width="0.3">PPARγ</text><text transform="translate(1596.5,1219.62) rotate(-90)" font-size="8.5" text-anchor="middle" fill="#111" stroke="#111" stroke-width="0.25" textLength="156.75" lengthAdjust="spacingAndGlyphs">relative expression in PCOS endometrium tissue</text><text transform="translate(1605.8,1219.38) rotate(-90)" font-size="8.5" text-anchor="middle" fill="#111" stroke="#111" stroke-width="0.25" textLength="72.75" lengthAdjust="spacingAndGlyphs">(normalized by β-actin)</text><path d="M1630.25,1151.75V1286.75H1765.25" fill="none" stroke="#1a1a1a" stroke-width="1.7" stroke-linecap="square"/><path d="M1626.25,1152.25H1630.25" stroke="#111" stroke-width="1.7"/><text x="1624.95" y="1155.44" font-size="10.3" text-anchor="end" fill="#000" stroke="#000" stroke-width="0.3" font-weight="normal">10</text><path d="M1626.25,1179.15H1630.25" stroke="#111" stroke-width="1.7"/><text x="1624.95" y="1182.34" font-size="10.3" text-anchor="end" fill="#000" stroke="#000" stroke-width="0.3" font-weight="normal">8</text><path d="M1626.25,1206.05H1630.25" stroke="#111" stroke-width="1.7"/><text x="1624.95" y="1209.24" font-size="10.3" text-anchor="end" fill="#000" stroke="#000" stroke-width="0.3" font-weight="normal">6</text><path d="M1626.25,1232.95H1630.25" stroke="#111" stroke-width="1.7"/><text x="1624.95" y="1236.14" font-size="10.3" text-anchor="end" fill="#000" stroke="#000" stroke-width="0.3" font-weight="normal">4</text><path d="M1626.25,1259.85H1630.25" stroke="#111" stroke-width="1.7"/><text x="1624.95" y="1263.04" font-size="10.3" text-anchor="end" fill="#000" stroke="#000" stroke-width="0.3" font-weight="normal">2</text><path d="M1626.25,1286.75H1630.25" stroke="#111" stroke-width="1.7"/><text x="1624.95" y="1289.94" font-size="10.3" text-anchor="end" fill="#000" stroke="#000" stroke-width="0.3" font-weight="normal">0</text><path d="M1664,1286.75V1290.75" stroke="#111" stroke-width="1.7"/><text x="1664" y="1299.7" font-size="9.7" text-anchor="middle" fill="#000" stroke="#000" stroke-width="0.3">O-CON</text><path d="M1731,1286.75V1290.75" stroke="#111" stroke-width="1.7"/><text x="1731" y="1299.7" font-size="9.7" text-anchor="middle" fill="#000" stroke="#000" stroke-width="0.3">O-PCOS</text><path d="M1663.88,1224.5V1245.5M1663.88,1276.25V1278.25M1652.94,1224.5H1674.81M1652.94,1278.25H1674.81M1642,1273.75H1685.75" fill="none" stroke="#1410ee" stroke-width="1.7"/><rect x="1642" y="1245.5" width="43.75" height="30.75" fill="none" stroke="#1410ee" stroke-width="1.7"/><path d="M1731.12,1170.75V1244.25M1731.12,1271.25V1272.5M1720.06,1170.75H1742.19M1720.06,1272.5H1742.19M1709,1258.75H1753.25" fill="none" stroke="#6cc234" stroke-width="1.7"/><rect x="1709" y="1244.25" width="44.25" height="27" fill="none" stroke="#6cc234" stroke-width="1.7"/></g>
</svg>
</body></html>
